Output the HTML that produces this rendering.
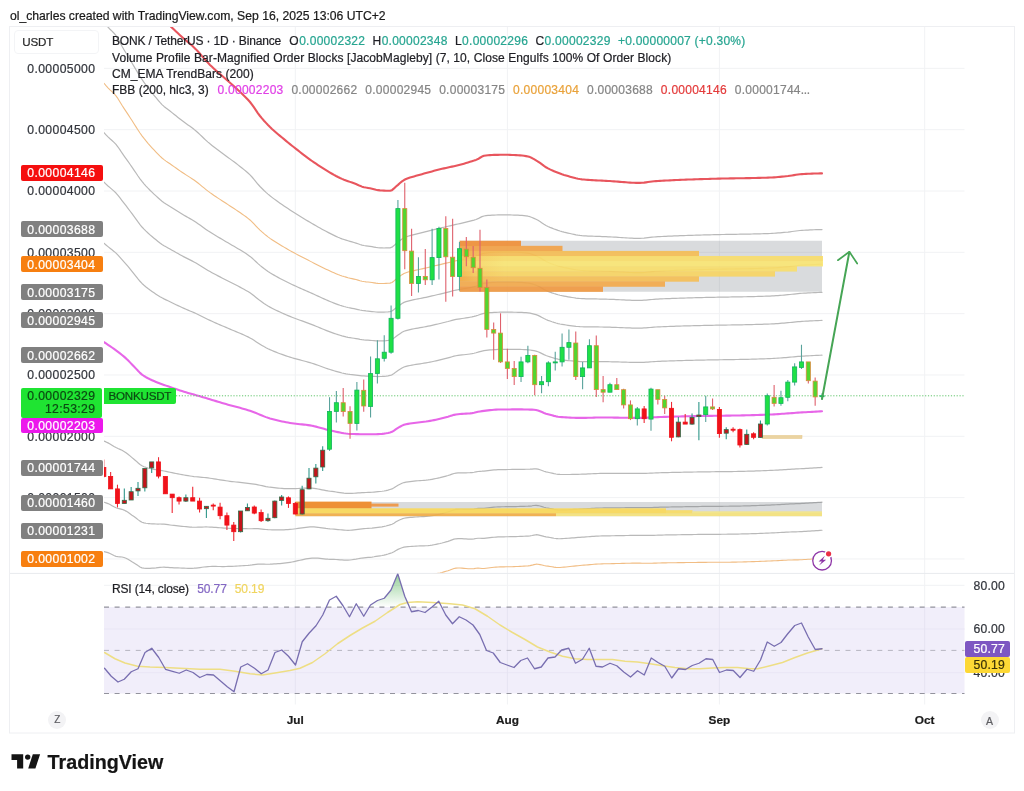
<!DOCTYPE html>
<html><head><meta charset="utf-8"><title>chart</title>
<style>
html,body{margin:0;padding:0;background:#fff;overflow:hidden;}
html{width:1024px;height:791px;}
body{width:1024px;height:791px;position:relative;overflow:hidden;font-family:"Liberation Sans", sans-serif;}
.t{position:absolute;white-space:nowrap;line-height:20px;height:20px;font-family:"Liberation Sans", sans-serif;-webkit-text-stroke:0.22px currentColor;}
svg{position:absolute;left:0;top:0;}
</style></head><body>
<svg width="1024" height="791" viewBox="0 0 1024 791">
<line x1="104.0" y1="68.35" x2="964.5" y2="68.35" stroke="#f1f2f4" stroke-width="1"/>
<line x1="104.0" y1="129.68" x2="964.5" y2="129.68" stroke="#f1f2f4" stroke-width="1"/>
<line x1="104.0" y1="191" x2="964.5" y2="191" stroke="#f1f2f4" stroke-width="1"/>
<line x1="104.0" y1="252.33" x2="964.5" y2="252.33" stroke="#f1f2f4" stroke-width="1"/>
<line x1="104.0" y1="313.65" x2="964.5" y2="313.65" stroke="#f1f2f4" stroke-width="1"/>
<line x1="104.0" y1="374.98" x2="964.5" y2="374.98" stroke="#f1f2f4" stroke-width="1"/>
<line x1="104.0" y1="436.3" x2="964.5" y2="436.3" stroke="#f1f2f4" stroke-width="1"/>
<line x1="104.0" y1="497.62" x2="964.5" y2="497.62" stroke="#f1f2f4" stroke-width="1"/>
<line x1="104.0" y1="558.95" x2="964.5" y2="558.95" stroke="#f1f2f4" stroke-width="1"/>
<line x1="104.0" y1="585.3" x2="964.5" y2="585.3" stroke="#f1f2f4" stroke-width="1"/>
<line x1="104.0" y1="629" x2="964.5" y2="629" stroke="#f1f2f4" stroke-width="1"/>
<line x1="104.0" y1="672.7" x2="964.5" y2="672.7" stroke="#f1f2f4" stroke-width="1"/>
<line x1="295.3" y1="26.5" x2="295.3" y2="704.5" stroke="#f1f2f4" stroke-width="1"/>
<line x1="507.4" y1="26.5" x2="507.4" y2="704.5" stroke="#f1f2f4" stroke-width="1"/>
<line x1="719.4" y1="26.5" x2="719.4" y2="704.5" stroke="#f1f2f4" stroke-width="1"/>
<line x1="924.7" y1="26.5" x2="924.7" y2="704.5" stroke="#f1f2f4" stroke-width="1"/>
<defs><clipPath id="mp"><rect x="104.0" y="27.0" width="860.5" height="546.4"/></clipPath>
<clipPath id="rp"><rect x="104.0" y="573.4" width="860.5" height="130.60000000000002"/></clipPath>
<linearGradient id="obg" x1="0" x2="1" y1="0" y2="0"><stop offset="0" stop-color="#ef8a2c" stop-opacity="0.4"/><stop offset="0.10" stop-color="#ef8a2c" stop-opacity="0.14"/><stop offset="0.3" stop-color="#ef8a2c" stop-opacity="0"/></linearGradient>
<linearGradient id="rsig" x1="0" x2="0" y1="0" y2="1"><stop offset="0" stop-color="#4caf50" stop-opacity="0.6"/><stop offset="1" stop-color="#4caf50" stop-opacity="0.0"/></linearGradient>
</defs>
<g clip-path="url(#mp)">
<polyline points="104,243.32 106,244.99 108,246.64 110,248.23 112,249.79 114,251.41 116,253.16 118,255.17 120,257.36 122,259.62 124,261.83 126,264.07 128,266.42 130,268.85 132,271.32 134,273.78 136,276.3 138,278.85 140,281.28 142,283.45 144,285.29 146,286.98 148,288.56 150,290.04 152,291.44 154,292.8 156,294.14 158,295.44 160,296.69 162,297.84 164,298.9 166,299.88 168,300.82 170,301.76 172,302.73 174,303.7 176,304.67 178,305.63 180,306.57 182,307.5 184,308.4 186,309.27 188,310.11 190,310.95 192,311.79 194,312.66 196,313.56 198,314.5 200,315.48 202,316.47 204,317.47 206,318.46 208,319.44 210,320.38 212,321.3 214,322.2 216,323.09 218,323.96 220,324.83 222,325.7 224,326.56 226,327.42 228,328.27 230,329.11 232,329.94 234,330.76 236,331.59 238,332.43 240,333.28 242,334.15 244,335.04 246,335.95 248,336.91 250,337.92 252,339.06 254,340.31 256,341.63 258,342.95 260,344.22 262,345.43 264,346.59 266,347.69 268,348.72 270,349.66 272,350.54 274,351.37 276,352.17 278,352.95 280,353.69 282,354.42 284,355.12 286,355.81 288,356.48 290,357.12 292,357.73 294,358.31 296,358.87 298,359.41 300,359.94 302,360.46 304,360.99 306,361.53 308,362.08 310,362.66 312,363.26 314,363.9 316,364.59 318,365.31 320,366.04 322,366.78 324,367.5 326,368.21 328,368.9 330,369.54 332,370.14 334,370.74 336,371.33 338,371.91 340,372.45 342,372.96 344,373.42 346,373.82 348,374.17 350,374.46 352,374.68 354,374.89 356,375.11 358,375.35 360,375.59 362,375.8 364,375.95 366,376.06 368,376.15 370,376.24 372,376.35 374,376.45 376,376.51 378,376.54 380,376.51 382,376.43 384,376.28 386,376.07 388,375.79 390,375.45 392,374.82 394,373.48 396,371.89 398,370.53 400,369.21 402,367.98 404,367.01 406,366.4 408,365.9 410,365.48 412,365.12 414,364.78 416,364.44 418,364.13 420,363.83 422,363.52 424,363.21 426,362.89 428,362.53 430,362.13 432,361.72 434,361.28 436,360.83 438,360.37 440,359.91 442,359.41 444,358.91 446,358.4 448,357.88 450,357.32 452,356.72 454,356.16 456,355.73 458,355.44 460,355.19 462,354.96 464,354.74 466,354.51 468,354.26 470,353.98 472,353.66 474,353.24 476,352.73 478,352.17 480,351.56 482,351.05 484,350.67 486,350.4 488,350.16 490,349.95 492,349.78 494,349.64 496,349.53 498,349.45 500,349.4 502,349.38 504,349.36 506,349.35 508,349.35 510,349.35 512,349.36 514,349.37 516,349.39 518,349.41 520,349.44 522,349.49 524,349.57 526,349.67 528,349.81 530,350 532,350.29 534,350.63 536,351.06 538,351.73 540,352.62 542,353.62 544,354.63 546,355.51 548,356.22 550,356.89 552,357.53 554,358.14 556,358.69 558,359.16 560,359.55 562,359.84 564,360.09 566,360.33 568,360.55 570,360.76 572,360.96 574,361.14 576,361.3 578,361.43 580,361.53 582,361.6 584,361.63 586,361.65 588,361.65 590,361.64 592,361.62 594,361.6 596,361.59 598,361.58 600,361.59 602,361.6 604,361.63 606,361.66 608,361.7 610,361.74 612,361.79 614,361.84 616,361.9 618,361.96 620,362.02 622,362.09 624,362.15 626,362.21 628,362.27 630,362.32 632,362.36 634,362.4 636,362.42 638,362.44 640,362.44 642,362.4 644,362.31 646,362.2 648,362.06 650,361.91 652,361.76 654,361.61 656,361.49 658,361.38 660,361.29 662,361.21 664,361.14 666,361.07 668,361 670,360.93 672,360.86 674,360.8 676,360.74 678,360.68 680,360.62 682,360.56 684,360.51 686,360.45 688,360.4 690,360.35 692,360.3 694,360.26 696,360.21 698,360.17 700,360.12 702,360.08 704,360.04 706,360 708,359.96 710,359.93 712,359.89 714,359.86 716,359.83 718,359.79 720,359.76 722,359.73 724,359.71 726,359.68 728,359.65 730,359.62 732,359.59 734,359.56 736,359.52 738,359.49 740,359.46 742,359.42 744,359.38 746,359.33 748,359.29 750,359.24 752,359.19 754,359.14 756,359.08 758,359.02 760,358.96 762,358.89 764,358.82 766,358.75 768,358.67 770,358.59 772,358.5 774,358.39 776,358.27 778,358.14 780,358 782,357.85 784,357.7 786,357.54 788,357.37 790,357.19 792,357.01 794,356.82 796,356.64 798,356.47 800,356.31 802,356.18 804,356.06 806,355.95 808,355.84 810,355.73 812,355.62 814,355.52 816,355.42 818,355.33 820,355.24 822,355.16 822,355.16" fill="none" stroke="#b9b9b9" stroke-width="1.2" stroke-linejoin="round" stroke-linecap="round" />
<polyline points="104,182.15 106,184.07 108,185.94 110,187.67 112,189.34 114,191.08 116,193.02 118,195.35 120,197.96 122,200.63 124,203.19 126,205.72 128,208.32 130,210.99 132,213.71 134,216.43 136,219.19 138,221.97 140,224.62 142,227.03 144,229.17 146,231.16 148,233.05 150,234.83 152,236.54 154,238.2 156,239.83 158,241.44 160,242.98 162,244.4 164,245.67 166,246.83 168,247.93 170,249.03 172,250.16 174,251.31 176,252.45 178,253.59 180,254.71 182,255.81 184,256.87 186,257.89 188,258.9 190,259.9 192,260.91 194,261.97 196,263.08 198,264.26 200,265.47 202,266.72 204,267.97 206,269.2 208,270.4 210,271.56 212,272.67 214,273.75 216,274.81 218,275.85 220,276.89 222,277.92 224,278.95 226,280 228,281.02 230,282.04 232,283.04 234,284.05 236,285.07 238,286.09 240,287.14 242,288.22 244,289.3 246,290.41 248,291.59 250,292.84 252,294.25 254,295.81 256,297.45 258,299.07 260,300.61 262,302.04 264,303.42 266,304.73 268,305.97 270,307.11 272,308.18 274,309.21 276,310.19 278,311.14 280,312.07 282,312.97 284,313.85 286,314.73 288,315.58 290,316.41 292,317.22 294,317.99 296,318.74 298,319.48 300,320.2 302,320.92 304,321.64 306,322.37 308,323.1 310,323.85 312,324.61 314,325.39 316,326.21 318,327.04 320,327.88 322,328.72 324,329.55 326,330.35 328,331.14 330,331.89 332,332.61 334,333.31 336,334 338,334.67 340,335.29 342,335.87 344,336.39 346,336.87 348,337.29 350,337.65 352,337.97 354,338.28 356,338.6 358,338.96 360,339.33 362,339.65 364,339.88 366,340.04 368,340.18 370,340.33 372,340.5 374,340.68 376,340.82 378,340.92 380,340.94 382,340.9 384,340.8 386,340.65 388,340.44 390,340.16 392,339.53 394,338.11 396,336.47 398,335.05 400,333.64 402,332.31 404,331.27 406,330.6 408,330.05 410,329.57 412,329.16 414,328.78 416,328.4 418,328.05 420,327.7 422,327.34 424,326.98 426,326.61 428,326.21 430,325.79 432,325.35 434,324.89 436,324.43 438,323.96 440,323.49 442,322.99 444,322.5 446,321.99 448,321.5 450,320.96 452,320.39 454,319.85 456,319.42 458,319.1 460,318.8 462,318.51 464,318.22 466,317.92 468,317.6 470,317.26 472,316.88 474,316.42 476,315.88 478,315.26 480,314.53 482,313.87 484,313.43 486,313.16 488,312.92 490,312.71 492,312.55 494,312.42 496,312.33 498,312.26 500,312.22 502,312.2 504,312.18 506,312.17 508,312.17 510,312.18 512,312.2 514,312.23 516,312.26 518,312.3 520,312.35 522,312.43 524,312.54 526,312.68 528,312.86 530,313.14 532,313.56 534,314.05 536,314.63 538,315.4 540,316.38 542,317.47 544,318.56 546,319.54 548,320.33 550,321.06 552,321.76 554,322.41 556,323.01 558,323.55 560,324 562,324.37 564,324.7 566,325.01 568,325.3 570,325.59 572,325.85 574,326.1 576,326.33 578,326.51 580,326.67 582,326.77 584,326.84 586,326.88 588,326.91 590,326.93 592,326.94 594,326.95 596,326.96 598,326.97 600,326.99 602,327.02 604,327.06 606,327.11 608,327.16 610,327.21 612,327.28 614,327.35 616,327.42 618,327.51 620,327.59 622,327.67 624,327.76 626,327.83 628,327.91 630,327.97 632,328.03 634,328.08 636,328.11 638,328.13 640,328.12 642,328.07 644,327.97 646,327.83 648,327.67 650,327.49 652,327.32 654,327.16 656,327.02 658,326.91 660,326.81 662,326.73 664,326.65 666,326.57 668,326.49 670,326.42 672,326.35 674,326.28 676,326.21 678,326.14 680,326.08 682,326.02 684,325.96 686,325.9 688,325.85 690,325.79 692,325.74 694,325.69 696,325.64 698,325.59 700,325.54 702,325.49 704,325.45 706,325.41 708,325.37 710,325.33 712,325.29 714,325.25 716,325.21 718,325.18 720,325.14 722,325.11 724,325.08 726,325.05 728,325.02 730,324.99 732,324.96 734,324.93 736,324.89 738,324.86 740,324.83 742,324.79 744,324.75 746,324.71 748,324.67 750,324.62 752,324.58 754,324.52 756,324.47 758,324.41 760,324.35 762,324.29 764,324.22 766,324.15 768,324.08 770,324 772,323.9 774,323.79 776,323.67 778,323.53 780,323.38 782,323.22 784,323.06 786,322.89 788,322.72 790,322.52 792,322.31 794,322.1 796,321.89 798,321.7 800,321.53 802,321.39 804,321.27 806,321.16 808,321.05 810,320.94 812,320.84 814,320.74 816,320.65 818,320.57 820,320.49 822,320.42 822,320.42" fill="none" stroke="#b9b9b9" stroke-width="1.2" stroke-linejoin="round" stroke-linecap="round" />
<polyline points="104,132.71 106,134.84 108,136.88 110,138.73 112,140.49 114,142.32 116,144.42 118,147.01 120,149.95 122,152.96 124,155.79 126,158.56 128,161.37 130,164.23 132,167.14 134,170.07 136,173.03 138,176 140,178.82 142,181.44 144,183.81 146,186.05 148,188.18 150,190.21 152,192.17 154,194.07 156,195.93 158,197.79 160,199.57 162,201.21 164,202.65 166,203.96 168,205.19 170,206.41 172,207.68 174,208.96 176,210.25 178,211.53 180,212.79 182,214.03 184,215.22 186,216.37 188,217.5 190,218.63 192,219.79 194,221 196,222.29 198,223.65 200,225.06 202,226.51 204,227.96 206,229.39 208,230.78 210,232.1 212,233.36 214,234.59 216,235.79 218,236.97 220,238.14 222,239.31 224,240.48 226,241.66 228,242.84 230,243.99 232,245.15 234,246.3 236,247.46 238,248.65 240,249.85 242,251.09 244,252.33 246,253.61 248,254.96 250,256.4 252,258.03 254,259.84 256,261.74 258,263.61 260,265.36 262,266.98 264,268.54 266,270.01 268,271.41 270,272.72 272,273.95 274,275.13 276,276.26 278,277.36 280,278.42 282,279.47 284,280.5 286,281.52 288,282.53 290,283.51 292,284.47 294,285.4 296,286.31 298,287.2 300,288.08 302,288.96 304,289.84 306,290.72 308,291.6 310,292.48 312,293.37 314,294.27 316,295.19 318,296.12 320,297.04 322,297.97 324,298.87 326,299.76 328,300.63 330,301.47 332,302.27 334,303.07 336,303.84 338,304.57 340,305.26 342,305.89 344,306.47 346,307 348,307.48 350,307.91 352,308.3 354,308.69 356,309.1 358,309.55 360,310.02 362,310.43 364,310.72 366,310.94 368,311.11 370,311.3 372,311.53 374,311.76 376,311.98 378,312.13 380,312.2 382,312.19 384,312.13 386,312.02 388,311.86 390,311.64 392,311 394,309.53 396,307.84 398,306.38 400,304.89 402,303.49 404,302.39 406,301.67 408,301.07 410,300.55 412,300.1 414,299.68 416,299.28 418,298.89 420,298.5 422,298.1 424,297.7 426,297.29 428,296.86 430,296.41 432,295.95 434,295.48 436,295.01 438,294.53 440,294.05 442,293.56 444,293.07 446,292.57 448,292.09 450,291.57 452,291.03 454,290.51 456,290.08 458,289.72 460,289.39 462,289.06 464,288.71 466,288.35 468,287.97 470,287.57 472,287.15 474,286.66 476,286.09 478,285.42 480,284.6 482,283.83 484,283.33 486,283.06 488,282.82 490,282.62 492,282.46 494,282.35 496,282.27 498,282.2 500,282.16 502,282.15 504,282.13 506,282.13 508,282.13 510,282.15 512,282.17 514,282.21 516,282.25 518,282.3 520,282.37 522,282.47 524,282.61 526,282.79 528,283.01 530,283.35 532,283.87 534,284.48 536,285.18 538,286.04 540,287.09 542,288.25 544,289.42 546,290.47 548,291.33 550,292.11 552,292.85 554,293.54 556,294.18 558,294.76 560,295.27 562,295.71 564,296.1 566,296.46 568,296.81 570,297.15 572,297.48 574,297.78 576,298.06 578,298.29 580,298.48 582,298.62 584,298.71 586,298.78 588,298.84 590,298.88 592,298.91 594,298.94 596,298.97 598,299 600,299.03 602,299.07 604,299.12 606,299.18 608,299.24 610,299.31 612,299.38 614,299.47 616,299.56 618,299.66 620,299.76 622,299.86 624,299.96 626,300.05 628,300.14 630,300.22 632,300.28 634,300.34 636,300.38 638,300.4 640,300.39 642,300.33 644,300.21 646,300.05 648,299.87 650,299.68 652,299.48 654,299.31 656,299.16 658,299.05 660,298.95 662,298.86 664,298.77 666,298.69 668,298.6 670,298.53 672,298.45 674,298.37 676,298.3 678,298.23 680,298.17 682,298.1 684,298.04 686,297.98 688,297.92 690,297.86 692,297.8 694,297.75 696,297.69 698,297.64 700,297.59 702,297.54 704,297.5 706,297.45 708,297.41 710,297.36 712,297.32 714,297.28 716,297.24 718,297.2 720,297.16 722,297.13 724,297.09 726,297.06 728,297.03 730,297 732,296.97 734,296.94 736,296.91 738,296.87 740,296.84 742,296.8 744,296.77 746,296.73 748,296.69 750,296.64 752,296.6 754,296.55 756,296.5 758,296.44 760,296.39 762,296.32 764,296.26 766,296.19 768,296.12 770,296.04 772,295.94 774,295.83 776,295.7 778,295.55 780,295.4 782,295.24 784,295.07 786,294.89 788,294.71 790,294.5 792,294.27 794,294.04 796,293.81 798,293.6 800,293.42 802,293.27 804,293.15 806,293.04 808,292.93 810,292.83 812,292.73 814,292.64 816,292.55 818,292.48 820,292.41 822,292.35 822,292.35" fill="none" stroke="#b9b9b9" stroke-width="1.2" stroke-linejoin="round" stroke-linecap="round" />
<polyline points="104,22.11 106,24.69 108,27.12 110,29.24 112,31.18 114,33.23 116,35.67 118,38.85 120,42.55 122,46.3 124,49.74 126,53.04 128,56.31 130,59.61 132,62.95 134,66.35 136,69.77 138,73.14 140,76.36 142,79.43 144,82.33 146,85.12 148,87.81 150,90.39 152,92.89 154,95.33 156,97.73 158,100.14 160,102.46 162,104.58 164,106.41 166,108.04 168,109.56 170,111.06 172,112.62 174,114.23 176,115.83 178,117.43 180,119.01 182,120.56 184,122.05 186,123.48 188,124.89 190,126.32 192,127.79 194,129.34 196,131.01 198,132.79 200,134.65 202,136.55 204,138.45 206,140.32 208,142.12 210,143.81 212,145.42 214,146.98 216,148.49 218,149.98 220,151.45 222,152.92 224,154.4 226,155.9 228,157.4 230,158.88 232,160.36 234,161.84 236,163.34 238,164.86 240,166.42 242,168.02 244,169.62 246,171.27 248,173.01 250,174.88 252,177 254,179.38 256,181.85 258,184.27 260,186.5 262,188.53 264,190.48 266,192.34 268,194.11 270,195.78 272,197.37 274,198.89 276,200.35 278,201.77 280,203.15 282,204.52 284,205.88 286,207.24 288,208.58 290,209.9 292,211.2 294,212.49 296,213.75 298,215 300,216.23 302,217.46 304,218.69 306,219.91 308,221.12 310,222.31 312,223.48 314,224.63 316,225.78 318,226.92 320,228.05 322,229.16 324,230.24 326,231.3 328,232.36 330,233.4 332,234.41 334,235.39 336,236.34 338,237.24 340,238.07 342,238.83 344,239.52 346,240.17 348,240.78 350,241.36 352,241.92 354,242.49 356,243.09 358,243.76 360,244.46 362,245.07 364,245.5 366,245.81 368,246.08 370,246.36 372,246.7 374,247.08 376,247.45 378,247.73 380,247.89 382,247.95 384,247.98 386,247.97 388,247.93 390,247.84 392,247.19 394,245.58 396,243.8 398,242.23 400,240.57 402,239.01 404,237.77 406,236.94 408,236.23 410,235.63 412,235.09 414,234.59 416,234.12 418,233.65 420,233.17 422,232.68 424,232.18 426,231.69 428,231.19 430,230.69 432,230.19 434,229.68 436,229.18 438,228.69 440,228.2 442,227.7 444,227.22 446,226.75 448,226.29 450,225.82 452,225.34 454,224.86 456,224.42 458,224.01 460,223.58 462,223.15 464,222.68 466,222.19 468,221.69 470,221.17 472,220.64 474,220.09 476,219.46 478,218.68 480,217.63 482,216.62 484,215.99 486,215.71 488,215.47 490,215.28 492,215.14 494,215.05 496,215 498,214.96 500,214.93 502,214.91 504,214.9 506,214.9 508,214.91 510,214.94 512,214.99 514,215.05 516,215.12 518,215.19 520,215.29 522,215.45 524,215.65 526,215.9 528,216.21 530,216.7 532,217.44 534,218.34 536,219.3 538,220.34 540,221.55 542,222.88 544,224.21 546,225.42 548,226.43 550,227.33 552,228.16 554,228.94 556,229.67 558,230.36 560,231 562,231.58 564,232.11 566,232.59 568,233.07 570,233.54 572,234 574,234.42 576,234.81 578,235.15 580,235.43 582,235.64 584,235.79 586,235.92 588,236.03 590,236.12 592,236.2 594,236.27 596,236.34 598,236.41 600,236.47 602,236.54 604,236.62 606,236.7 608,236.78 610,236.87 612,236.98 614,237.09 616,237.22 618,237.35 620,237.49 622,237.63 624,237.76 626,237.89 628,238.01 630,238.12 632,238.21 634,238.28 636,238.33 638,238.36 640,238.35 642,238.26 644,238.11 646,237.91 648,237.68 650,237.44 652,237.21 654,237 656,236.84 658,236.72 660,236.61 662,236.51 664,236.41 666,236.31 668,236.21 670,236.12 672,236.04 674,235.95 676,235.87 678,235.79 680,235.71 682,235.64 684,235.57 686,235.5 688,235.43 690,235.36 692,235.3 694,235.24 696,235.18 698,235.12 700,235.06 702,235.01 704,234.95 706,234.9 708,234.85 710,234.8 712,234.75 714,234.7 716,234.65 718,234.61 720,234.56 722,234.52 724,234.48 726,234.45 728,234.41 730,234.38 732,234.35 734,234.32 736,234.29 738,234.26 740,234.22 742,234.19 744,234.16 746,234.12 748,234.09 750,234.05 752,234.01 754,233.96 756,233.92 758,233.87 760,233.81 762,233.75 764,233.69 766,233.63 768,233.56 770,233.48 772,233.38 774,233.26 776,233.12 778,232.96 780,232.8 782,232.62 784,232.44 786,232.25 788,232.05 790,231.8 792,231.53 794,231.25 796,230.98 798,230.73 800,230.52 802,230.36 804,230.24 806,230.13 808,230.03 810,229.93 812,229.84 814,229.75 816,229.68 818,229.62 820,229.58 822,229.54 822,229.54" fill="none" stroke="#b9b9b9" stroke-width="1.2" stroke-linejoin="round" stroke-linecap="round" />
<polyline points="104,441.06 106,441.92 108,442.88 110,443.99 112,445.21 114,446.44 116,447.58 118,448.54 120,449.4 122,450.32 124,451.44 126,452.73 128,454.25 130,455.9 132,457.59 134,459.22 136,460.92 138,462.75 140,464.47 142,465.82 144,466.71 146,467.43 148,468.02 150,468.51 152,468.94 154,469.33 156,469.71 158,470.03 160,470.31 162,470.61 164,470.97 166,471.37 168,471.8 170,472.24 172,472.67 174,473.08 176,473.47 178,473.86 180,474.24 182,474.61 184,474.98 186,475.35 188,475.69 190,476 192,476.28 194,476.54 196,476.75 198,476.94 200,477.12 202,477.31 204,477.5 206,477.71 208,477.95 210,478.22 212,478.52 214,478.83 216,479.16 218,479.49 220,479.82 222,480.15 224,480.46 226,480.75 228,481.02 230,481.28 232,481.53 234,481.77 236,482 238,482.22 240,482.44 242,482.67 244,482.91 246,483.17 248,483.42 250,483.68 252,483.92 254,484.18 256,484.46 258,484.8 260,485.22 262,485.68 264,486.14 266,486.56 268,486.93 270,487.22 272,487.46 274,487.68 276,487.89 278,488.09 280,488.27 282,488.42 284,488.54 286,488.63 288,488.69 290,488.72 292,488.72 294,488.68 296,488.6 298,488.51 300,488.4 302,488.3 304,488.2 306,488.13 308,488.1 310,488.12 312,488.21 314,488.4 316,488.68 318,489.02 320,489.4 322,489.8 324,490.21 326,490.6 328,490.95 330,491.24 332,491.47 334,491.72 336,492 338,492.29 340,492.59 342,492.87 344,493.11 346,493.3 348,493.42 350,493.44 352,493.36 354,493.25 356,493.13 358,492.97 360,492.81 362,492.66 364,492.56 366,492.49 368,492.43 370,492.35 372,492.25 374,492.09 376,491.89 378,491.68 380,491.49 382,491.27 384,490.97 386,490.58 388,490.1 390,489.52 392,488.91 394,487.8 396,486.41 398,485.22 400,484.21 402,483.27 404,482.54 406,482.12 408,481.81 410,481.57 412,481.36 414,481.15 416,480.94 418,480.76 420,480.62 422,480.49 424,480.35 426,480.17 428,479.93 430,479.64 432,479.3 434,478.92 436,478.52 438,478.09 440,477.65 442,477.16 444,476.63 446,476.08 448,475.52 450,474.88 452,474.17 454,473.53 456,473.12 458,472.94 460,472.84 462,472.8 464,472.79 466,472.79 468,472.77 470,472.71 472,472.58 474,472.27 476,471.87 478,471.5 480,471.29 482,471.22 484,471.06 486,470.81 488,470.57 490,470.34 492,470.13 494,469.95 496,469.79 498,469.68 500,469.61 502,469.58 504,469.56 506,469.55 508,469.52 510,469.5 512,469.47 514,469.45 516,469.42 518,469.39 520,469.36 522,469.32 524,469.28 526,469.25 528,469.23 530,469.17 532,469.05 534,468.9 536,468.84 538,469.19 540,469.79 542,470.5 544,471.21 546,471.81 548,472.24 550,472.71 552,473.18 554,473.63 556,474.02 558,474.31 560,474.47 562,474.5 564,474.51 566,474.52 568,474.51 570,474.49 572,474.46 574,474.42 576,474.37 578,474.32 580,474.26 582,474.2 584,474.13 586,474.04 588,473.94 590,473.84 592,473.74 594,473.64 596,473.55 598,473.48 600,473.43 602,473.4 604,473.38 606,473.37 608,473.36 610,473.36 612,473.36 614,473.36 616,473.36 618,473.35 620,473.35 622,473.35 624,473.35 626,473.35 628,473.35 630,473.35 632,473.35 634,473.35 636,473.35 638,473.36 640,473.36 642,473.37 644,473.35 646,473.31 648,473.25 650,473.18 652,473.1 654,473.01 656,472.91 658,472.82 660,472.75 662,472.69 664,472.64 666,472.59 668,472.54 670,472.49 672,472.45 674,472.4 676,472.36 678,472.32 680,472.28 682,472.24 684,472.2 686,472.16 688,472.12 690,472.08 692,472.05 694,472.01 696,471.98 698,471.95 700,471.92 702,471.89 704,471.86 706,471.83 708,471.81 710,471.78 712,471.76 714,471.74 716,471.72 718,471.71 720,471.69 722,471.67 724,471.65 726,471.62 728,471.6 730,471.57 732,471.54 734,471.51 736,471.48 738,471.44 740,471.4 742,471.36 744,471.32 746,471.27 748,471.21 750,471.16 752,471.1 754,471.04 756,470.97 758,470.9 760,470.83 762,470.76 764,470.68 766,470.6 768,470.52 770,470.44 772,470.35 774,470.26 776,470.15 778,470.04 780,469.92 782,469.8 784,469.67 786,469.54 788,469.4 790,469.29 792,469.18 794,469.07 796,468.97 798,468.87 800,468.77 802,468.66 804,468.54 806,468.42 808,468.3 810,468.18 812,468.06 814,467.94 816,467.82 818,467.7 820,467.57 822,467.44 822,467.44" fill="none" stroke="#b9b9b9" stroke-width="1.2" stroke-linejoin="round" stroke-linecap="round" />
<polyline points="104,502.22 106,502.83 108,503.58 110,504.54 112,505.66 114,506.77 116,507.72 118,508.35 120,508.8 122,509.31 124,510.08 126,511.09 128,512.35 130,513.76 132,515.21 134,516.57 136,518.03 138,519.63 140,521.13 142,522.24 144,522.83 146,523.25 148,523.53 150,523.71 152,523.84 154,523.94 156,524.02 158,524.03 160,524.02 162,524.05 164,524.19 166,524.41 168,524.68 170,524.97 172,525.23 174,525.47 176,525.69 178,525.9 180,526.1 182,526.31 184,526.51 186,526.72 188,526.9 190,527.05 192,527.17 194,527.23 196,527.23 198,527.19 200,527.13 202,527.06 204,527 206,526.97 208,526.98 210,527.04 212,527.15 214,527.28 216,527.44 218,527.6 220,527.77 222,527.92 224,528.06 226,528.18 228,528.27 230,528.35 232,528.42 234,528.47 236,528.52 238,528.55 240,528.58 242,528.61 244,528.65 246,528.7 248,528.75 250,528.76 252,528.73 254,528.68 256,528.65 258,528.68 260,528.83 262,529.06 264,529.3 266,529.52 268,529.68 270,529.77 272,529.81 274,529.85 276,529.88 278,529.89 280,529.89 282,529.87 284,529.81 286,529.71 288,529.58 290,529.43 292,529.24 294,529 296,528.73 298,528.44 300,528.14 302,527.84 304,527.55 306,527.29 308,527.08 310,526.93 312,526.86 314,526.91 316,527.06 318,527.28 320,527.55 322,527.85 324,528.16 326,528.46 328,528.7 330,528.88 332,529 334,529.15 336,529.33 338,529.53 340,529.75 342,529.96 344,530.13 346,530.26 348,530.3 350,530.25 352,530.07 354,529.86 356,529.63 358,529.36 360,529.07 362,528.81 364,528.63 366,528.51 368,528.4 370,528.27 372,528.1 374,527.86 376,527.58 378,527.3 380,527.06 382,526.8 384,526.45 386,526 388,525.45 390,524.81 392,524.2 394,523.16 396,521.83 398,520.7 400,519.78 402,518.93 404,518.28 406,517.92 408,517.67 410,517.47 412,517.31 414,517.15 416,516.98 418,516.84 420,516.75 422,516.68 424,516.58 426,516.45 428,516.25 430,515.99 432,515.67 434,515.31 436,514.92 438,514.51 440,514.07 442,513.58 444,513.04 446,512.48 448,511.9 450,511.24 452,510.49 454,509.84 456,509.43 458,509.29 460,509.23 462,509.25 464,509.31 466,509.38 468,509.43 470,509.44 472,509.36 474,509.09 476,508.72 478,508.41 480,508.32 482,508.39 484,508.29 486,508.05 488,507.81 490,507.58 492,507.36 494,507.16 496,506.99 498,506.87 500,506.79 502,506.77 504,506.75 506,506.72 508,506.7 510,506.67 512,506.63 514,506.59 516,506.55 518,506.51 520,506.45 522,506.38 524,506.31 526,506.24 528,506.17 530,506.03 532,505.78 534,505.48 536,505.28 538,505.53 540,506.03 542,506.65 544,507.27 546,507.78 548,508.13 550,508.53 552,508.95 554,509.36 556,509.69 558,509.93 560,510.02 562,509.97 564,509.9 566,509.84 568,509.76 570,509.67 572,509.57 574,509.46 576,509.35 578,509.24 580,509.13 582,509.03 584,508.92 586,508.81 588,508.68 590,508.55 592,508.42 594,508.3 596,508.19 598,508.09 600,508.02 602,507.98 604,507.95 606,507.92 608,507.9 610,507.89 612,507.87 614,507.85 616,507.83 618,507.81 620,507.79 622,507.77 624,507.74 626,507.72 628,507.71 630,507.69 632,507.68 634,507.67 636,507.67 638,507.67 640,507.68 642,507.69 644,507.69 646,507.68 648,507.65 650,507.6 652,507.54 654,507.47 656,507.38 658,507.29 660,507.22 662,507.17 664,507.13 666,507.09 668,507.05 670,507 672,506.96 674,506.93 676,506.89 678,506.85 680,506.81 682,506.78 684,506.74 686,506.71 688,506.68 690,506.65 692,506.61 694,506.58 696,506.55 698,506.53 700,506.5 702,506.47 704,506.44 706,506.42 708,506.4 710,506.38 712,506.37 714,506.35 716,506.34 718,506.32 720,506.31 722,506.29 724,506.27 726,506.25 728,506.23 730,506.2 732,506.17 734,506.14 736,506.11 738,506.07 740,506.03 742,505.99 744,505.94 746,505.89 748,505.83 750,505.78 752,505.72 754,505.65 756,505.58 758,505.51 760,505.44 762,505.36 764,505.28 766,505.2 768,505.12 770,505.04 772,504.95 774,504.86 776,504.76 778,504.66 780,504.54 782,504.43 784,504.31 786,504.18 788,504.06 790,503.96 792,503.87 794,503.79 796,503.72 798,503.64 800,503.56 802,503.45 804,503.33 806,503.21 808,503.09 810,502.97 812,502.84 814,502.72 816,502.59 818,502.46 820,502.32 822,502.18 822,502.18" fill="none" stroke="#b9b9b9" stroke-width="1.2" stroke-linejoin="round" stroke-linecap="round" />
<polyline points="104,551.66 106,552.07 108,552.64 110,553.48 112,554.51 114,555.53 116,556.33 118,556.69 120,556.81 122,556.98 124,557.48 126,558.25 128,559.3 130,560.53 132,561.78 134,562.93 136,564.18 138,565.6 140,566.93 142,567.83 144,568.19 146,568.36 148,568.39 150,568.33 152,568.21 154,568.07 156,567.92 158,567.68 160,567.42 162,567.24 164,567.21 166,567.29 168,567.43 170,567.59 172,567.72 174,567.81 176,567.89 178,567.96 180,568.02 182,568.08 184,568.16 186,568.24 188,568.29 190,568.32 192,568.29 194,568.2 196,568.03 198,567.8 200,567.54 202,567.27 204,567.01 206,566.78 208,566.6 210,566.5 212,566.45 214,566.44 216,566.46 218,566.48 220,566.51 222,566.54 224,566.54 226,566.51 228,566.46 230,566.4 232,566.32 234,566.23 236,566.12 238,566 240,565.87 242,565.74 244,565.62 246,565.51 248,565.38 250,565.2 252,564.95 254,564.64 256,564.35 258,564.14 260,564.08 262,564.13 264,564.19 266,564.24 268,564.24 270,564.17 272,564.04 274,563.92 276,563.81 278,563.68 280,563.54 282,563.37 284,563.16 286,562.91 288,562.64 290,562.33 292,561.98 294,561.59 296,561.16 298,560.71 300,560.25 302,559.8 304,559.35 306,558.94 308,558.58 310,558.29 312,558.1 314,558.04 316,558.08 318,558.21 320,558.39 322,558.61 324,558.84 326,559.05 328,559.22 330,559.31 332,559.34 334,559.4 336,559.5 338,559.63 340,559.78 342,559.93 344,560.06 346,560.13 348,560.11 350,559.99 352,559.74 354,559.45 356,559.14 358,558.77 360,558.37 362,558.03 364,557.79 366,557.62 368,557.47 370,557.3 372,557.07 374,556.77 376,556.42 378,556.08 380,555.8 382,555.51 384,555.12 386,554.63 388,554.03 390,553.33 392,552.72 394,551.75 396,550.46 398,549.37 400,548.53 402,547.75 404,547.16 406,546.85 408,546.64 410,546.49 412,546.37 414,546.25 416,546.1 418,546 420,545.95 422,545.92 424,545.87 426,545.77 428,545.6 430,545.36 432,545.07 434,544.72 436,544.34 438,543.94 440,543.5 442,543.01 444,542.47 446,541.9 448,541.31 450,540.63 452,539.86 454,539.18 456,538.78 458,538.66 460,538.65 462,538.71 464,538.82 466,538.95 468,539.06 470,539.12 472,539.09 474,538.85 476,538.51 478,538.24 480,538.26 482,538.43 484,538.39 486,538.15 488,537.91 490,537.68 492,537.45 494,537.24 496,537.06 498,536.93 500,536.84 502,536.82 504,536.8 506,536.77 508,536.74 510,536.7 512,536.66 514,536.61 516,536.56 518,536.5 520,536.43 522,536.34 524,536.24 526,536.14 528,536.03 530,535.82 532,535.47 534,535.04 536,534.72 538,534.89 540,535.32 542,535.87 544,536.42 546,536.85 548,537.14 550,537.49 552,537.87 554,538.23 556,538.53 558,538.71 560,538.75 562,538.63 564,538.5 566,538.39 568,538.25 570,538.11 572,537.95 574,537.78 576,537.62 578,537.46 580,537.31 582,537.17 584,537.05 586,536.9 588,536.75 590,536.6 592,536.45 594,536.31 596,536.18 598,536.07 600,535.98 602,535.93 604,535.89 606,535.85 608,535.82 610,535.79 612,535.76 614,535.73 616,535.7 618,535.66 620,535.62 622,535.58 624,535.54 626,535.51 628,535.48 630,535.45 632,535.43 634,535.41 636,535.4 638,535.4 640,535.41 642,535.44 644,535.45 646,535.46 648,535.45 650,535.42 652,535.38 654,535.32 656,535.24 658,535.15 660,535.09 662,535.04 664,535.01 666,534.97 668,534.93 670,534.9 672,534.86 674,534.83 676,534.79 678,534.76 680,534.73 682,534.7 684,534.67 686,534.64 688,534.61 690,534.58 692,534.55 694,534.52 696,534.5 698,534.47 700,534.45 702,534.42 704,534.4 706,534.38 708,534.36 710,534.35 712,534.34 714,534.32 716,534.31 718,534.3 720,534.29 722,534.27 724,534.26 726,534.24 728,534.21 730,534.19 732,534.16 734,534.13 736,534.1 738,534.06 740,534.02 742,533.97 744,533.93 746,533.87 748,533.82 750,533.76 752,533.69 754,533.63 756,533.56 758,533.48 760,533.41 762,533.33 764,533.25 766,533.17 768,533.08 770,533 772,532.92 774,532.83 776,532.73 778,532.63 780,532.52 782,532.41 784,532.3 786,532.18 788,532.07 790,531.98 792,531.91 794,531.86 796,531.8 798,531.74 800,531.67 802,531.57 804,531.45 806,531.33 808,531.21 810,531.08 812,530.96 814,530.82 816,530.69 818,530.55 820,530.4 822,530.25 822,530.25" fill="none" stroke="#b9b9b9" stroke-width="1.2" stroke-linejoin="round" stroke-linecap="round" />
<polyline points="104,83.28 106,85.61 108,87.82 110,89.79 112,91.63 114,93.56 116,95.81 118,98.67 120,101.95 122,105.29 124,108.39 126,111.39 128,114.41 130,117.47 132,120.57 134,123.71 136,126.88 138,130.02 140,133.03 142,135.84 144,138.45 146,140.94 148,143.32 150,145.59 152,147.79 154,149.93 156,152.04 158,154.14 160,156.17 162,158.02 164,159.64 166,161.08 168,162.44 170,163.79 172,165.19 174,166.62 176,168.05 178,169.47 180,170.87 182,172.25 184,173.57 186,174.85 188,176.11 190,177.37 192,178.67 194,180.03 196,181.49 198,183.04 200,184.65 202,186.3 204,187.95 206,189.58 208,191.15 210,192.64 212,194.06 214,195.43 216,196.77 218,198.09 220,199.39 222,200.69 224,202 226,203.33 228,204.65 230,205.95 232,207.25 234,208.55 236,209.86 238,211.2 240,212.56 242,213.96 244,215.36 246,216.81 248,218.33 250,219.96 252,221.81 254,223.88 256,226.03 258,228.15 260,230.11 262,231.92 264,233.65 266,235.3 268,236.86 270,238.33 272,239.72 274,241.05 276,242.33 278,243.57 280,244.78 282,245.97 284,247.15 286,248.32 288,249.48 290,250.61 292,251.72 294,252.81 296,253.88 298,254.93 300,255.97 302,257 304,258.04 306,259.07 308,260.1 310,261.12 312,262.13 314,263.14 316,264.17 318,265.19 320,266.21 322,267.21 324,268.2 326,269.16 328,270.11 330,271.04 332,271.94 334,272.82 336,273.67 338,274.48 340,275.23 342,275.92 344,276.55 346,277.13 348,277.67 350,278.16 352,278.63 354,279.1 356,279.59 358,280.15 360,280.72 362,281.22 364,281.57 366,281.83 368,282.04 370,282.27 372,282.55 374,282.85 376,283.13 378,283.35 380,283.46 382,283.48 384,283.46 386,283.39 388,283.29 390,283.12 392,282.48 394,280.95 396,279.22 398,277.71 400,276.14 402,274.67 404,273.51 406,272.74 408,272.09 410,271.53 412,271.04 414,270.59 416,270.15 418,269.73 420,269.3 422,268.86 424,268.41 426,267.96 428,267.51 430,267.03 432,266.56 434,266.07 436,265.59 438,265.1 440,264.62 442,264.12 444,263.64 446,263.15 448,262.68 450,262.18 452,261.67 454,261.17 456,260.73 458,260.35 460,259.98 462,259.6 464,259.2 466,258.78 468,258.35 470,257.89 472,257.43 474,256.91 476,256.31 478,255.59 480,254.66 482,253.79 484,253.23 486,252.95 488,252.71 490,252.52 492,252.37 494,252.27 496,252.2 498,252.15 500,252.11 502,252.09 504,252.08 506,252.08 508,252.09 510,252.11 512,252.14 514,252.19 516,252.24 518,252.3 520,252.39 522,252.51 524,252.68 526,252.89 528,253.15 530,253.56 532,254.18 534,254.92 536,255.74 538,256.67 540,257.8 542,259.03 544,260.27 546,261.39 548,262.32 550,263.15 552,263.93 554,264.66 556,265.34 558,265.97 560,266.54 562,267.04 564,267.5 566,267.91 568,268.32 570,268.72 572,269.1 574,269.46 576,269.79 578,270.07 580,270.3 582,270.47 584,270.59 586,270.68 588,270.76 590,270.83 592,270.88 594,270.93 596,270.98 598,271.02 600,271.07 602,271.13 604,271.19 606,271.25 608,271.32 610,271.4 612,271.49 614,271.59 616,271.7 618,271.81 620,271.93 622,272.04 624,272.16 626,272.27 628,272.37 630,272.46 632,272.54 634,272.6 636,272.64 638,272.67 640,272.66 642,272.58 644,272.45 646,272.28 648,272.07 650,271.86 652,271.65 654,271.46 656,271.31 658,271.19 660,271.09 662,270.99 664,270.9 666,270.81 668,270.72 670,270.63 672,270.55 674,270.47 676,270.4 678,270.32 680,270.25 682,270.18 684,270.11 686,270.05 688,269.99 690,269.93 692,269.87 694,269.81 696,269.75 698,269.7 700,269.64 702,269.59 704,269.54 706,269.49 708,269.44 710,269.4 712,269.35 714,269.31 716,269.26 718,269.22 720,269.18 722,269.15 724,269.11 726,269.08 728,269.04 730,269.01 732,268.98 734,268.95 736,268.92 738,268.89 740,268.85 742,268.82 744,268.78 746,268.75 748,268.71 750,268.67 752,268.62 754,268.57 756,268.53 758,268.47 760,268.42 762,268.36 764,268.29 766,268.23 768,268.15 770,268.07 772,267.98 774,267.86 776,267.73 778,267.58 780,267.42 782,267.25 784,267.07 786,266.89 788,266.7 790,266.48 792,266.23 794,265.98 796,265.73 798,265.5 800,265.3 802,265.15 804,265.03 806,264.92 808,264.81 810,264.71 812,264.62 814,264.53 816,264.45 818,264.38 820,264.32 822,264.28 822,264.28" fill="none" stroke="#f1bd84" stroke-width="1.1" stroke-linejoin="round" stroke-linecap="round" />
<polyline points="104,601.09 106,601.3 108,601.7 110,602.42 112,603.37 114,604.29 116,604.93 118,605.04 120,604.81 122,604.65 124,604.88 126,605.41 128,606.26 130,607.29 132,608.34 134,609.29 136,610.34 138,611.58 140,612.73 142,613.42 144,613.55 146,613.47 148,613.26 150,612.95 152,612.58 154,612.2 156,611.81 158,611.33 160,610.83 162,610.44 164,610.23 166,610.16 168,610.17 170,610.21 172,610.2 174,610.16 176,610.09 178,610.02 180,609.94 182,609.86 184,609.8 186,609.76 188,609.69 190,609.58 192,609.41 194,609.17 196,608.83 198,608.41 200,607.95 202,607.48 204,607.02 206,606.59 208,606.23 210,605.96 212,605.76 214,605.6 216,605.48 218,605.37 220,605.26 222,605.15 224,605.01 226,604.84 228,604.65 230,604.44 232,604.22 234,603.98 236,603.72 238,603.45 240,603.16 242,602.87 244,602.59 246,602.31 248,602 250,601.64 252,601.16 254,600.61 256,600.06 258,599.61 260,599.33 262,599.19 264,599.08 266,598.95 268,598.79 270,598.56 272,598.27 274,598 276,597.74 278,597.47 280,597.18 282,596.87 284,596.52 286,596.12 288,595.69 290,595.23 292,594.73 294,594.18 296,593.6 298,592.99 300,592.37 302,591.75 304,591.15 306,590.59 308,590.09 310,589.66 312,589.34 314,589.16 316,589.1 318,589.13 320,589.23 322,589.37 324,589.52 326,589.65 328,589.73 330,589.74 332,589.67 334,589.64 336,589.67 338,589.73 340,589.81 342,589.91 344,589.98 346,590 348,589.93 350,589.74 352,589.41 354,589.04 356,588.64 358,588.17 360,587.68 362,587.24 364,586.94 366,586.72 368,586.54 370,586.32 372,586.05 374,585.68 376,585.27 378,584.87 380,584.54 382,584.22 384,583.79 386,583.25 388,582.61 390,581.85 392,581.25 394,580.33 396,579.08 398,578.04 400,577.28 402,576.57 404,576.05 406,575.78 408,575.62 410,575.51 412,575.43 414,575.34 416,575.23 418,575.16 420,575.15 422,575.16 424,575.15 426,575.09 428,574.95 430,574.74 432,574.46 434,574.13 436,573.76 438,573.37 440,572.94 442,572.45 444,571.9 446,571.32 448,570.72 450,570.01 452,569.22 454,568.52 456,568.13 458,568.04 460,568.06 462,568.16 464,568.33 466,568.52 468,568.69 470,568.81 472,568.82 474,568.61 476,568.29 478,568.07 480,568.19 482,568.48 484,568.49 486,568.25 488,568.01 490,567.77 492,567.54 494,567.31 496,567.12 498,566.98 500,566.89 502,566.87 504,566.85 506,566.82 508,566.79 510,566.74 512,566.69 514,566.63 516,566.56 518,566.5 520,566.41 522,566.3 524,566.17 526,566.03 528,565.88 530,565.61 532,565.16 534,564.61 536,564.17 538,564.26 540,564.61 542,565.09 544,565.57 546,565.93 548,566.14 550,566.44 552,566.78 554,567.1 556,567.36 558,567.5 560,567.48 562,567.3 564,567.1 566,566.93 568,566.74 570,566.54 572,566.32 574,566.1 576,565.89 578,565.68 580,565.49 582,565.32 584,565.17 586,565 588,564.83 590,564.65 592,564.48 594,564.32 596,564.17 598,564.04 600,563.94 602,563.88 604,563.82 606,563.78 608,563.74 610,563.7 612,563.66 614,563.61 616,563.56 618,563.51 620,563.45 622,563.4 624,563.34 626,563.29 628,563.25 630,563.21 632,563.17 634,563.15 636,563.13 638,563.13 640,563.14 642,563.18 644,563.21 646,563.23 648,563.24 650,563.24 652,563.21 654,563.17 656,563.09 658,563.01 660,562.95 662,562.91 664,562.88 666,562.85 668,562.82 670,562.79 672,562.76 674,562.73 676,562.7 678,562.67 680,562.64 682,562.62 684,562.59 686,562.56 688,562.54 690,562.51 692,562.49 694,562.46 696,562.44 698,562.42 700,562.39 702,562.37 704,562.35 706,562.34 708,562.32 710,562.31 712,562.3 714,562.29 716,562.29 718,562.28 720,562.27 722,562.26 724,562.24 726,562.22 728,562.2 730,562.18 732,562.15 734,562.12 736,562.09 738,562.05 740,562.01 742,561.96 744,561.91 746,561.86 748,561.8 750,561.73 752,561.67 754,561.6 756,561.53 758,561.45 760,561.38 762,561.3 764,561.21 766,561.13 768,561.04 770,560.96 772,560.88 774,560.79 776,560.7 778,560.61 780,560.51 782,560.4 784,560.29 786,560.18 788,560.07 790,560 792,559.95 794,559.92 796,559.89 798,559.84 800,559.78 802,559.69 804,559.57 806,559.45 808,559.32 810,559.2 812,559.07 814,558.93 816,558.79 818,558.64 820,558.49 822,558.32 822,558.32" fill="none" stroke="#f1bd84" stroke-width="1.1" stroke-linejoin="round" stroke-linecap="round" />
<polyline points="104,-76.76 106,-73.77 108,-71 110,-68.64 112,-66.53 114,-64.28 116,-61.54 118,-57.83 120,-53.47 122,-49.05 124,-45.06 126,-41.29 128,-37.6 130,-33.92 132,-30.18 134,-26.36 136,-22.54 138,-18.81 140,-15.23 142,-11.76 144,-8.38 146,-5.1 148,-1.92 150,1.15 152,4.15 154,7.06 156,9.94 158,12.84 160,15.65 162,18.2 164,20.38 166,22.29 168,24.07 170,25.82 172,27.65 174,29.54 176,31.43 178,33.31 180,35.18 182,37 184,38.75 186,40.44 188,42.11 190,43.79 192,45.54 194,47.4 196,49.41 198,51.57 200,53.82 202,56.13 204,58.43 206,60.69 208,62.86 210,64.9 212,66.81 214,68.66 216,70.45 218,72.21 220,73.95 222,75.69 224,77.45 226,79.24 228,81.02 230,82.79 232,84.56 234,86.34 236,88.14 238,89.97 240,91.84 242,93.76 244,95.69 246,97.66 248,99.75 250,102 252,104.57 254,107.44 256,110.43 258,113.34 260,116 262,118.41 264,120.71 266,122.9 268,125 270,127 272,128.91 274,130.73 276,132.49 278,134.19 280,135.87 282,137.52 284,139.17 286,140.83 288,142.47 290,144.1 292,145.71 294,147.3 296,148.88 298,150.45 300,152 302,153.55 304,155.09 306,156.61 308,158.11 310,159.58 312,161 314,162.38 316,163.74 318,165.07 320,166.37 322,167.64 324,168.89 326,170.11 328,171.33 330,172.55 332,173.74 334,174.9 336,176 338,177.04 340,178 342,178.87 344,179.68 346,180.43 348,181.16 350,181.87 352,182.58 354,183.31 356,184.08 358,184.95 360,185.84 362,186.64 364,187.19 366,187.59 368,187.94 370,188.3 372,188.75 374,189.26 376,189.76 378,190.16 380,190.4 382,190.53 384,190.63 386,190.72 388,190.78 390,190.8 392,190.14 394,188.42 396,186.54 398,184.88 400,183.07 402,181.36 404,180.01 406,179.07 408,178.28 410,177.58 412,176.97 414,176.4 416,175.86 418,175.33 420,174.77 422,174.19 424,173.61 426,173.04 428,172.48 430,171.94 432,171.39 434,170.86 436,170.34 438,169.83 440,169.32 442,168.83 444,168.36 446,167.91 448,167.48 450,167.04 452,166.61 454,166.18 456,165.73 458,165.26 460,164.76 462,164.23 464,163.66 466,163.05 468,162.43 470,161.8 472,161.19 474,160.57 476,159.89 478,159.02 480,157.76 482,156.53 484,155.8 486,155.51 488,155.27 490,155.09 492,154.96 494,154.9 496,154.87 498,154.84 500,154.82 502,154.81 504,154.8 506,154.8 508,154.82 510,154.87 512,154.93 514,155.01 516,155.1 518,155.2 520,155.33 522,155.53 524,155.79 526,156.11 528,156.5 530,157.12 532,158.07 534,159.21 536,160.41 538,161.61 540,162.97 542,164.44 544,165.92 546,167.27 548,168.42 550,169.42 552,170.34 554,171.19 556,172 558,172.79 560,173.54 562,174.25 564,174.9 566,175.49 568,176.09 570,176.68 572,177.25 574,177.78 576,178.28 578,178.71 580,179.07 582,179.35 584,179.55 586,179.72 588,179.88 590,180.02 592,180.14 594,180.26 596,180.36 598,180.46 600,180.55 602,180.65 604,180.74 606,180.84 608,180.95 610,181.06 612,181.19 614,181.34 616,181.49 618,181.66 620,181.83 622,182 624,182.16 626,182.32 628,182.47 630,182.6 632,182.71 634,182.8 636,182.87 638,182.9 640,182.88 642,182.77 644,182.59 646,182.35 648,182.08 650,181.8 652,181.54 654,181.3 656,181.13 658,181 660,180.88 662,180.77 664,180.65 666,180.55 668,180.44 670,180.34 672,180.24 674,180.15 676,180.06 678,179.97 680,179.88 682,179.8 684,179.72 686,179.65 688,179.57 690,179.5 692,179.43 694,179.36 696,179.29 698,179.23 700,179.16 702,179.1 704,179.04 706,178.98 708,178.93 710,178.87 712,178.81 714,178.76 716,178.7 718,178.65 720,178.6 722,178.56 724,178.51 726,178.48 728,178.44 730,178.4 732,178.37 734,178.34 736,178.31 738,178.28 740,178.25 742,178.22 744,178.19 746,178.16 748,178.12 750,178.09 752,178.05 754,178.01 756,177.97 758,177.92 760,177.87 762,177.82 764,177.76 766,177.7 768,177.63 770,177.56 772,177.45 774,177.33 776,177.18 778,177.01 780,176.83 782,176.65 784,176.45 786,176.25 788,176.03 790,175.76 792,175.45 794,175.13 796,174.81 798,174.53 800,174.29 802,174.12 804,174 806,173.9 808,173.79 810,173.7 812,173.61 814,173.54 816,173.48 818,173.44 820,173.41 822,173.4 822,173.4" fill="none" stroke="#e8555d" stroke-width="2.1" stroke-linejoin="round" stroke-linecap="round" />
<polyline points="104,342.19 106,343.45 108,344.76 110,346.11 112,347.5 114,348.93 116,350.37 118,351.85 120,353.38 122,354.97 124,356.64 126,358.4 128,360.34 130,362.38 132,364.46 134,366.5 136,368.61 138,370.8 140,372.88 142,374.63 144,376 146,377.21 148,378.29 150,379.27 152,380.19 154,381.07 156,381.92 158,382.73 160,383.5 162,384.23 164,384.93 166,385.62 168,386.31 170,387 172,387.7 174,388.39 176,389.07 178,389.74 180,390.41 182,391.06 184,391.69 186,392.31 188,392.9 190,393.47 192,394.04 194,394.6 196,395.16 198,395.72 200,396.3 202,396.89 204,397.48 206,398.09 208,398.69 210,399.3 212,399.91 214,400.52 216,401.12 218,401.73 220,402.33 222,402.92 224,403.51 226,404.09 228,404.65 230,405.2 232,405.73 234,406.26 236,406.79 238,407.32 240,407.86 242,408.41 244,408.98 246,409.56 248,410.17 250,410.8 252,411.49 254,412.24 256,413.05 258,413.88 260,414.72 262,415.55 264,416.36 266,417.13 268,417.83 270,418.44 272,419 274,419.53 276,420.03 278,420.52 280,420.98 282,421.42 284,421.83 286,422.22 288,422.58 290,422.92 292,423.23 294,423.5 296,423.74 298,423.96 300,424.17 302,424.38 304,424.6 306,424.83 308,425.09 310,425.39 312,425.73 314,426.15 316,426.64 318,427.16 320,427.72 322,428.29 324,428.86 326,429.41 328,429.92 330,430.39 332,430.8 334,431.23 336,431.67 338,432.1 340,432.52 342,432.91 344,433.26 346,433.56 348,433.8 350,433.95 352,434.02 354,434.07 356,434.12 358,434.16 360,434.2 362,434.23 364,434.25 366,434.28 368,434.29 370,434.3 372,434.3 374,434.27 376,434.2 378,434.11 380,434 382,433.85 384,433.63 386,433.32 388,432.95 390,432.49 392,431.86 394,430.64 396,429.15 398,427.87 400,426.71 402,425.62 404,424.78 406,424.26 408,423.86 410,423.52 412,423.24 414,422.97 416,422.69 418,422.45 420,422.22 422,422.01 424,421.78 426,421.53 428,421.23 430,420.89 432,420.51 434,420.1 436,419.67 438,419.23 440,418.78 442,418.29 444,417.77 446,417.24 448,416.7 450,416.1 452,415.44 454,414.85 456,414.43 458,414.19 460,414.02 462,413.88 464,413.76 466,413.65 468,413.52 470,413.35 472,413.12 474,412.76 476,412.3 478,411.83 480,411.43 482,411.13 484,410.86 486,410.6 488,410.36 490,410.15 492,409.95 494,409.79 496,409.66 498,409.56 500,409.5 502,409.48 504,409.46 506,409.45 508,409.44 510,409.43 512,409.42 514,409.41 516,409.4 518,409.4 520,409.4 522,409.4 524,409.43 526,409.46 528,409.52 530,409.59 532,409.67 534,409.76 536,409.95 538,410.46 540,411.2 542,412.06 544,412.92 546,413.66 548,414.23 550,414.8 552,415.36 554,415.88 556,416.35 558,416.74 560,417.01 562,417.17 564,417.3 566,417.42 568,417.53 570,417.63 572,417.71 574,417.78 576,417.84 578,417.88 580,417.9 582,417.9 584,417.88 586,417.84 588,417.8 590,417.74 592,417.68 594,417.62 596,417.57 598,417.53 600,417.51 602,417.5 604,417.5 606,417.52 608,417.53 610,417.55 612,417.57 614,417.6 616,417.63 618,417.66 620,417.69 622,417.72 624,417.75 626,417.78 628,417.81 630,417.83 632,417.86 634,417.87 636,417.89 638,417.9 640,417.9 642,417.88 644,417.83 646,417.75 648,417.66 650,417.55 652,417.43 654,417.31 656,417.2 658,417.1 660,417.02 662,416.95 664,416.89 666,416.83 668,416.77 670,416.71 672,416.65 674,416.6 676,416.55 678,416.5 680,416.45 682,416.4 684,416.35 686,416.31 688,416.26 690,416.22 692,416.18 694,416.14 696,416.1 698,416.06 700,416.02 702,415.98 704,415.95 706,415.91 708,415.88 710,415.86 712,415.83 714,415.8 716,415.78 718,415.75 720,415.73 722,415.7 724,415.68 726,415.65 728,415.62 730,415.6 732,415.57 734,415.54 736,415.5 738,415.47 740,415.43 742,415.39 744,415.35 746,415.3 748,415.25 750,415.2 752,415.15 754,415.09 756,415.03 758,414.96 760,414.9 762,414.83 764,414.75 766,414.68 768,414.6 770,414.52 772,414.43 774,414.33 776,414.21 778,414.09 780,413.96 782,413.82 784,413.68 786,413.54 788,413.39 790,413.24 792,413.09 794,412.95 796,412.81 798,412.67 800,412.54 802,412.42 804,412.3 806,412.18 808,412.07 810,411.95 812,411.84 814,411.73 816,411.62 818,411.51 820,411.41 822,411.3 822,411.3" fill="none" stroke="#e766e8" stroke-width="2.1" stroke-linejoin="round" stroke-linecap="round" />
<g fill-opacity="0.9">
<rect x="459.6" y="240.75" width="362.4" height="51.0" fill="rgb(95,100,112)" fill-opacity="0.235"/>
<rect x="459.6" y="240.75" width="61.4" height="5.38" fill="#ef8e35"/>
<rect x="459.6" y="245.83" width="102.9" height="5.38" fill="#f2a145"/>
<rect x="459.6" y="250.91" width="239.4" height="5.38" fill="#f5bd52"/>
<rect x="459.6" y="255.99" width="363.4" height="5.38" fill="#f8dd68"/>
<rect x="459.6" y="261.07" width="363.4" height="5.38" fill="#f9e572"/>
<rect x="459.6" y="266.15" width="337.4" height="5.38" fill="#f8de69"/>
<rect x="459.6" y="271.23" width="315.4" height="5.38" fill="#f7d460"/>
<rect x="459.6" y="276.31" width="239.4" height="5.38" fill="#f5be53"/>
<rect x="459.6" y="281.39" width="205.4" height="5.38" fill="#f3a849"/>
<rect x="459.6" y="286.47" width="143.4" height="5.38" fill="#f1983f"/>
<rect x="459.6" y="250.91" width="150" height="30.48" fill="url(#obg)"/>
<rect x="295.4" y="502" width="526.6" height="14.2" fill="rgb(95,100,112)" fill-opacity="0.235"/>
<rect x="295.4" y="501.6" width="76.10000000000002" height="7" fill="#ef8724"/>
<rect x="371" y="503.6" width="27.5" height="3" fill="#ee9340"/>
<rect x="295.4" y="508.3" width="370.6" height="5.4" fill="#f9d857"/>
<rect x="666" y="510.2" width="26.5" height="3.5" fill="#f8dc62"/>
<rect x="692.5" y="511.3" width="129.5" height="2.6" fill="#f4e585"/>
<rect x="295.4" y="513.4" width="260.6" height="2.8" fill="#f2ac45"/>
<rect x="556" y="513.4" width="266" height="2.8" fill="#f5e27a"/>
<rect x="762" y="435.4" width="40" height="3.2" fill="#e9cf98" stroke="#e6c88c" stroke-width="0.5"/>
</g>
<line x1="176" y1="395.8" x2="964.5" y2="395.8" stroke="#62c56c" stroke-width="1" stroke-dasharray="1.2 1.67"/>
<line x1="822" y1="393.3" x2="822" y2="399.7" stroke="#5aa39c" stroke-width="1.1"/>
<rect x="819.95" y="395.7" width="4.1" height="1" fill="#1fe045" stroke="#10b45c" stroke-width="0.8"/>
<line x1="815.16" y1="377.4" x2="815.16" y2="405.8" stroke="#df606c" stroke-width="1.1"/>
<rect x="813.11" y="381.1" width="4.1" height="15.8" fill="#52d62f" stroke="#d98a3c" stroke-width="0.8"/>
<line x1="808.32" y1="361.9" x2="808.32" y2="383.5" stroke="#df606c" stroke-width="1.1"/>
<rect x="806.27" y="361.9" width="4.1" height="18.8" fill="#52d62f" stroke="#d98a3c" stroke-width="0.8"/>
<line x1="801.48" y1="344.7" x2="801.48" y2="368.9" stroke="#5aa39c" stroke-width="1.1"/>
<rect x="799.43" y="361.9" width="4.1" height="5.6" fill="#1fe045" stroke="#10b45c" stroke-width="0.8"/>
<line x1="794.64" y1="363.3" x2="794.64" y2="385.5" stroke="#5aa39c" stroke-width="1.1"/>
<rect x="792.59" y="366.9" width="4.1" height="15.2" fill="#1fe045" stroke="#10b45c" stroke-width="0.8"/>
<line x1="787.8" y1="380.1" x2="787.8" y2="401.3" stroke="#5aa39c" stroke-width="1.1"/>
<rect x="785.75" y="382.1" width="4.1" height="15.2" fill="#1fe045" stroke="#10b45c" stroke-width="0.8"/>
<line x1="780.96" y1="390.8" x2="780.96" y2="405.8" stroke="#5aa39c" stroke-width="1.1"/>
<rect x="778.91" y="397.7" width="4.1" height="5.7" fill="#1fe045" stroke="#10b45c" stroke-width="0.8"/>
<line x1="774.12" y1="385.1" x2="774.12" y2="406.4" stroke="#df606c" stroke-width="1.1"/>
<rect x="772.07" y="397.3" width="4.1" height="6.1" fill="#52d62f" stroke="#d98a3c" stroke-width="0.8"/>
<line x1="767.28" y1="393.6" x2="767.28" y2="425.6" stroke="#5aa39c" stroke-width="1.1"/>
<rect x="765.23" y="395.7" width="4.1" height="28.3" fill="#1fe045" stroke="#10b45c" stroke-width="0.8"/>
<line x1="760.44" y1="420.6" x2="760.44" y2="437.8" stroke="#2f978a" stroke-width="1.1"/>
<rect x="758.39" y="424" width="4.1" height="13.4" fill="#c4141b" stroke="#356b48" stroke-width="0.8"/>
<line x1="753.6" y1="432.2" x2="753.6" y2="439.3" stroke="#ee2a36" stroke-width="1.1"/>
<rect x="751.55" y="433.8" width="4.1" height="3.5" fill="#f0121a" stroke="#f0121a" stroke-width="0.8"/>
<line x1="746.76" y1="429.6" x2="746.76" y2="445" stroke="#2f978a" stroke-width="1.1"/>
<rect x="744.71" y="434.3" width="4.1" height="10.1" fill="#c4141b" stroke="#356b48" stroke-width="0.8"/>
<line x1="739.92" y1="428.6" x2="739.92" y2="447.4" stroke="#ee2a36" stroke-width="1.1"/>
<rect x="737.87" y="429.6" width="4.1" height="15.4" fill="#f0121a" stroke="#f0121a" stroke-width="0.8"/>
<line x1="733.08" y1="427.2" x2="733.08" y2="432.2" stroke="#ee2a36" stroke-width="1.1"/>
<rect x="731.03" y="429.2" width="4.1" height="1" fill="#f0121a" stroke="#f0121a" stroke-width="0.8"/>
<line x1="726.24" y1="427.2" x2="726.24" y2="439.3" stroke="#2f978a" stroke-width="1.1"/>
<rect x="724.19" y="429.6" width="4.1" height="3.6" fill="#c4141b" stroke="#356b48" stroke-width="0.8"/>
<line x1="719.4" y1="406.9" x2="719.4" y2="437.7" stroke="#ee2a36" stroke-width="1.1"/>
<rect x="717.35" y="409.4" width="4.1" height="24.2" fill="#f0121a" stroke="#f0121a" stroke-width="0.8"/>
<line x1="712.56" y1="398.4" x2="712.56" y2="410" stroke="#df606c" stroke-width="1.1"/>
<rect x="710.51" y="406.9" width="4.1" height="2" fill="#52d62f" stroke="#d98a3c" stroke-width="0.8"/>
<line x1="705.72" y1="395.8" x2="705.72" y2="422.1" stroke="#5aa39c" stroke-width="1.1"/>
<rect x="703.67" y="406.9" width="4.1" height="7.7" fill="#1fe045" stroke="#10b45c" stroke-width="0.8"/>
<line x1="698.88" y1="401.9" x2="698.88" y2="440.3" stroke="#2f978a" stroke-width="1.1"/>
<rect x="696.83" y="415" width="4.1" height="1.6" fill="#c4141b" stroke="#356b48" stroke-width="0.8"/>
<line x1="692.04" y1="413.4" x2="692.04" y2="424.7" stroke="#2f978a" stroke-width="1.1"/>
<rect x="689.99" y="417.4" width="4.1" height="6.7" fill="#c4141b" stroke="#356b48" stroke-width="0.8"/>
<line x1="685.2" y1="414" x2="685.2" y2="424.1" stroke="#ee2a36" stroke-width="1.1"/>
<rect x="683.15" y="422.1" width="4.1" height="2" fill="#f0121a" stroke="#f0121a" stroke-width="0.8"/>
<line x1="678.36" y1="417" x2="678.36" y2="437.3" stroke="#2f978a" stroke-width="1.1"/>
<rect x="676.31" y="422.1" width="4.1" height="14.8" fill="#c4141b" stroke="#356b48" stroke-width="0.8"/>
<line x1="671.52" y1="401.9" x2="671.52" y2="441.3" stroke="#ee2a36" stroke-width="1.1"/>
<rect x="669.47" y="408.3" width="4.1" height="29" fill="#f0121a" stroke="#f0121a" stroke-width="0.8"/>
<line x1="664.68" y1="395.8" x2="664.68" y2="414" stroke="#df606c" stroke-width="1.1"/>
<rect x="662.63" y="399.4" width="4.1" height="8.5" fill="#52d62f" stroke="#d98a3c" stroke-width="0.8"/>
<line x1="657.84" y1="389.7" x2="657.84" y2="404.5" stroke="#df606c" stroke-width="1.1"/>
<rect x="655.79" y="389.7" width="4.1" height="9.7" fill="#52d62f" stroke="#d98a3c" stroke-width="0.8"/>
<line x1="651" y1="387.7" x2="651" y2="430.8" stroke="#5aa39c" stroke-width="1.1"/>
<rect x="648.95" y="389.1" width="4.1" height="30" fill="#1fe045" stroke="#10b45c" stroke-width="0.8"/>
<line x1="644.16" y1="405.9" x2="644.16" y2="423.1" stroke="#ee2a36" stroke-width="1.1"/>
<rect x="642.11" y="408.9" width="4.1" height="9.8" fill="#f0121a" stroke="#f0121a" stroke-width="0.8"/>
<line x1="637.32" y1="406.9" x2="637.32" y2="425.5" stroke="#5aa39c" stroke-width="1.1"/>
<rect x="635.27" y="408.9" width="4.1" height="9.8" fill="#1fe045" stroke="#10b45c" stroke-width="0.8"/>
<line x1="630.48" y1="400.4" x2="630.48" y2="420.1" stroke="#df606c" stroke-width="1.1"/>
<rect x="628.43" y="404.9" width="4.1" height="13.8" fill="#52d62f" stroke="#d98a3c" stroke-width="0.8"/>
<line x1="623.64" y1="388.7" x2="623.64" y2="408.5" stroke="#df606c" stroke-width="1.1"/>
<rect x="621.59" y="389.7" width="4.1" height="15.2" fill="#52d62f" stroke="#d98a3c" stroke-width="0.8"/>
<line x1="616.8" y1="378.1" x2="616.8" y2="389.6" stroke="#df606c" stroke-width="1.1"/>
<rect x="614.75" y="384.7" width="4.1" height="4.9" fill="#52d62f" stroke="#d98a3c" stroke-width="0.8"/>
<line x1="609.96" y1="382.7" x2="609.96" y2="392.2" stroke="#5aa39c" stroke-width="1.1"/>
<rect x="607.91" y="384.7" width="4.1" height="7.5" fill="#1fe045" stroke="#10b45c" stroke-width="0.8"/>
<line x1="603.12" y1="376" x2="603.12" y2="402.3" stroke="#df606c" stroke-width="1.1"/>
<rect x="601.07" y="389.6" width="4.1" height="2.6" fill="#52d62f" stroke="#d98a3c" stroke-width="0.8"/>
<line x1="596.28" y1="335.5" x2="596.28" y2="396.9" stroke="#df606c" stroke-width="1.1"/>
<rect x="594.23" y="345.7" width="4.1" height="43.9" fill="#52d62f" stroke="#d98a3c" stroke-width="0.8"/>
<line x1="589.44" y1="339.2" x2="589.44" y2="367.9" stroke="#5aa39c" stroke-width="1.1"/>
<rect x="587.39" y="345.7" width="4.1" height="22.2" fill="#1fe045" stroke="#10b45c" stroke-width="0.8"/>
<line x1="582.6" y1="361.9" x2="582.6" y2="389.2" stroke="#5aa39c" stroke-width="1.1"/>
<rect x="580.55" y="367.9" width="4.1" height="8.7" fill="#1fe045" stroke="#10b45c" stroke-width="0.8"/>
<line x1="575.76" y1="331.5" x2="575.76" y2="380.1" stroke="#df606c" stroke-width="1.1"/>
<rect x="573.71" y="343" width="4.1" height="33.6" fill="#52d62f" stroke="#d98a3c" stroke-width="0.8"/>
<line x1="568.92" y1="329.5" x2="568.92" y2="359.8" stroke="#5aa39c" stroke-width="1.1"/>
<rect x="566.87" y="342.6" width="4.1" height="4.7" fill="#1fe045" stroke="#10b45c" stroke-width="0.8"/>
<line x1="562.08" y1="333.5" x2="562.08" y2="366.5" stroke="#5aa39c" stroke-width="1.1"/>
<rect x="560.03" y="347.3" width="4.1" height="14.6" fill="#1fe045" stroke="#10b45c" stroke-width="0.8"/>
<line x1="555.24" y1="351.7" x2="555.24" y2="370.6" stroke="#5aa39c" stroke-width="1.1"/>
<rect x="553.19" y="361.9" width="4.1" height="1" fill="#1fe045" stroke="#10b45c" stroke-width="0.8"/>
<line x1="548.4" y1="361.3" x2="548.4" y2="386.2" stroke="#5aa39c" stroke-width="1.1"/>
<rect x="546.35" y="362.9" width="4.1" height="18.8" fill="#1fe045" stroke="#10b45c" stroke-width="0.8"/>
<line x1="541.56" y1="376" x2="541.56" y2="393.2" stroke="#5aa39c" stroke-width="1.1"/>
<rect x="539.51" y="381.7" width="4.1" height="3" fill="#1fe045" stroke="#10b45c" stroke-width="0.8"/>
<line x1="534.72" y1="354.8" x2="534.72" y2="395.3" stroke="#df606c" stroke-width="1.1"/>
<rect x="532.67" y="355.4" width="4.1" height="29.3" fill="#52d62f" stroke="#d98a3c" stroke-width="0.8"/>
<line x1="527.88" y1="345.7" x2="527.88" y2="363.3" stroke="#5aa39c" stroke-width="1.1"/>
<rect x="525.83" y="355.4" width="4.1" height="6.5" fill="#1fe045" stroke="#10b45c" stroke-width="0.8"/>
<line x1="521.04" y1="356.8" x2="521.04" y2="382.1" stroke="#5aa39c" stroke-width="1.1"/>
<rect x="518.99" y="361.9" width="4.1" height="14.7" fill="#1fe045" stroke="#10b45c" stroke-width="0.8"/>
<line x1="514.2" y1="360.9" x2="514.2" y2="385.1" stroke="#df606c" stroke-width="1.1"/>
<rect x="512.15" y="368.5" width="4.1" height="8.1" fill="#52d62f" stroke="#d98a3c" stroke-width="0.8"/>
<line x1="507.36" y1="348.7" x2="507.36" y2="379.1" stroke="#df606c" stroke-width="1.1"/>
<rect x="505.31" y="361.9" width="4.1" height="6.6" fill="#52d62f" stroke="#d98a3c" stroke-width="0.8"/>
<line x1="500.52" y1="313.3" x2="500.52" y2="362.9" stroke="#df606c" stroke-width="1.1"/>
<rect x="498.47" y="333.1" width="4.1" height="28.8" fill="#52d62f" stroke="#d98a3c" stroke-width="0.8"/>
<line x1="493.68" y1="322.4" x2="493.68" y2="359.8" stroke="#df606c" stroke-width="1.1"/>
<rect x="491.63" y="329.5" width="4.1" height="3.6" fill="#52d62f" stroke="#d98a3c" stroke-width="0.8"/>
<line x1="486.84" y1="279.4" x2="486.84" y2="337.6" stroke="#df606c" stroke-width="1.1"/>
<rect x="484.79" y="287.5" width="4.1" height="42" fill="#52d62f" stroke="#d98a3c" stroke-width="0.8"/>
<line x1="480" y1="229.8" x2="480" y2="291.6" stroke="#df606c" stroke-width="1.1"/>
<rect x="477.95" y="268.3" width="4.1" height="19.2" fill="#52d62f" stroke="#d98a3c" stroke-width="0.8"/>
<line x1="473.16" y1="246" x2="473.16" y2="273" stroke="#df606c" stroke-width="1.1"/>
<rect x="471.11" y="257.2" width="4.1" height="10.5" fill="#52d62f" stroke="#d98a3c" stroke-width="0.8"/>
<line x1="466.32" y1="236.9" x2="466.32" y2="266.3" stroke="#df606c" stroke-width="1.1"/>
<rect x="464.27" y="249.1" width="4.1" height="7.7" fill="#52d62f" stroke="#d98a3c" stroke-width="0.8"/>
<line x1="459.48" y1="242" x2="459.48" y2="290.6" stroke="#5aa39c" stroke-width="1.1"/>
<rect x="457.43" y="248.7" width="4.1" height="27.7" fill="#1fe045" stroke="#10b45c" stroke-width="0.8"/>
<line x1="452.64" y1="218.7" x2="452.64" y2="296.6" stroke="#df606c" stroke-width="1.1"/>
<rect x="450.59" y="257.2" width="4.1" height="19.2" fill="#52d62f" stroke="#d98a3c" stroke-width="0.8"/>
<line x1="445.8" y1="216.3" x2="445.8" y2="301.7" stroke="#df606c" stroke-width="1.1"/>
<rect x="443.75" y="228.4" width="4.1" height="28.4" fill="#52d62f" stroke="#d98a3c" stroke-width="0.8"/>
<line x1="438.96" y1="226.8" x2="438.96" y2="279.4" stroke="#5aa39c" stroke-width="1.1"/>
<rect x="436.91" y="228.4" width="4.1" height="29.2" fill="#1fe045" stroke="#10b45c" stroke-width="0.8"/>
<line x1="432.12" y1="228.8" x2="432.12" y2="285.1" stroke="#5aa39c" stroke-width="1.1"/>
<rect x="430.07" y="257.6" width="4.1" height="22.2" fill="#1fe045" stroke="#10b45c" stroke-width="0.8"/>
<line x1="425.28" y1="249.1" x2="425.28" y2="285.1" stroke="#df606c" stroke-width="1.1"/>
<rect x="423.23" y="276.4" width="4.1" height="3.4" fill="#52d62f" stroke="#d98a3c" stroke-width="0.8"/>
<line x1="418.44" y1="257.2" x2="418.44" y2="292.6" stroke="#5aa39c" stroke-width="1.1"/>
<rect x="416.39" y="276.4" width="4.1" height="7.1" fill="#1fe045" stroke="#10b45c" stroke-width="0.8"/>
<line x1="411.6" y1="228.8" x2="411.6" y2="296" stroke="#df606c" stroke-width="1.1"/>
<rect x="409.55" y="251.1" width="4.1" height="32.4" fill="#52d62f" stroke="#d98a3c" stroke-width="0.8"/>
<line x1="404.76" y1="182.7" x2="404.76" y2="269.3" stroke="#df606c" stroke-width="1.1"/>
<rect x="402.71" y="208.6" width="4.1" height="42.1" fill="#52d62f" stroke="#d98a3c" stroke-width="0.8"/>
<line x1="397.92" y1="200.1" x2="397.92" y2="319.6" stroke="#5aa39c" stroke-width="1.1"/>
<rect x="395.87" y="208.6" width="4.1" height="109.7" fill="#1fe045" stroke="#10b45c" stroke-width="0.8"/>
<line x1="391.08" y1="305.6" x2="391.08" y2="353.8" stroke="#5aa39c" stroke-width="1.1"/>
<rect x="389.03" y="318.3" width="4.1" height="33.9" fill="#1fe045" stroke="#10b45c" stroke-width="0.8"/>
<line x1="384.24" y1="335.2" x2="384.24" y2="361.5" stroke="#5aa39c" stroke-width="1.1"/>
<rect x="382.19" y="352.2" width="4.1" height="6.1" fill="#1fe045" stroke="#10b45c" stroke-width="0.8"/>
<line x1="377.4" y1="340.2" x2="377.4" y2="383.4" stroke="#5aa39c" stroke-width="1.1"/>
<rect x="375.35" y="358.8" width="4.1" height="14.8" fill="#1fe045" stroke="#10b45c" stroke-width="0.8"/>
<line x1="370.56" y1="356.6" x2="370.56" y2="417.5" stroke="#5aa39c" stroke-width="1.1"/>
<rect x="368.51" y="373.6" width="4.1" height="32.8" fill="#1fe045" stroke="#10b45c" stroke-width="0.8"/>
<line x1="363.72" y1="379.6" x2="363.72" y2="411.7" stroke="#df606c" stroke-width="1.1"/>
<rect x="361.67" y="390.3" width="4.1" height="15.7" fill="#52d62f" stroke="#d98a3c" stroke-width="0.8"/>
<line x1="356.88" y1="382" x2="356.88" y2="430.6" stroke="#5aa39c" stroke-width="1.1"/>
<rect x="354.83" y="390.1" width="4.1" height="33.4" fill="#1fe045" stroke="#10b45c" stroke-width="0.8"/>
<line x1="350.04" y1="406.3" x2="350.04" y2="438.7" stroke="#df606c" stroke-width="1.1"/>
<rect x="347.99" y="411.4" width="4.1" height="12.1" fill="#52d62f" stroke="#d98a3c" stroke-width="0.8"/>
<line x1="343.2" y1="388" x2="343.2" y2="416.5" stroke="#df606c" stroke-width="1.1"/>
<rect x="341.15" y="402.7" width="4.1" height="8.9" fill="#52d62f" stroke="#d98a3c" stroke-width="0.8"/>
<line x1="336.36" y1="391.1" x2="336.36" y2="422.5" stroke="#5aa39c" stroke-width="1.1"/>
<rect x="334.31" y="402.7" width="4.1" height="8.7" fill="#1fe045" stroke="#10b45c" stroke-width="0.8"/>
<line x1="329.52" y1="397.2" x2="329.52" y2="450.9" stroke="#5aa39c" stroke-width="1.1"/>
<rect x="327.47" y="411.4" width="4.1" height="37.8" fill="#1fe045" stroke="#10b45c" stroke-width="0.8"/>
<line x1="322.68" y1="446.2" x2="322.68" y2="471.1" stroke="#2f978a" stroke-width="1.1"/>
<rect x="320.63" y="450.2" width="4.1" height="16.8" fill="#c4141b" stroke="#356b48" stroke-width="0.8"/>
<line x1="315.84" y1="464" x2="315.84" y2="483.6" stroke="#2f978a" stroke-width="1.1"/>
<rect x="313.79" y="468.1" width="4.1" height="8.7" fill="#c4141b" stroke="#356b48" stroke-width="0.8"/>
<line x1="309" y1="468.1" x2="309" y2="489.3" stroke="#2f978a" stroke-width="1.1"/>
<rect x="306.95" y="478.2" width="4.1" height="10.7" fill="#c4141b" stroke="#356b48" stroke-width="0.8"/>
<line x1="302.16" y1="485.7" x2="302.16" y2="514.6" stroke="#2f978a" stroke-width="1.1"/>
<rect x="300.11" y="489.7" width="4.1" height="24.3" fill="#c4141b" stroke="#356b48" stroke-width="0.8"/>
<line x1="295.32" y1="502.1" x2="295.32" y2="514.6" stroke="#ee2a36" stroke-width="1.1"/>
<rect x="293.27" y="503.5" width="4.1" height="10.5" fill="#f0121a" stroke="#f0121a" stroke-width="0.8"/>
<line x1="288.48" y1="496.4" x2="288.48" y2="507.9" stroke="#ee2a36" stroke-width="1.1"/>
<rect x="286.43" y="497.8" width="4.1" height="5.7" fill="#f0121a" stroke="#f0121a" stroke-width="0.8"/>
<line x1="281.64" y1="495" x2="281.64" y2="505.5" stroke="#2f978a" stroke-width="1.1"/>
<rect x="279.59" y="497" width="4.1" height="3.4" fill="#c4141b" stroke="#356b48" stroke-width="0.8"/>
<line x1="274.8" y1="500.4" x2="274.8" y2="518.3" stroke="#2f978a" stroke-width="1.1"/>
<rect x="272.75" y="501.1" width="4.1" height="16.6" fill="#c4141b" stroke="#356b48" stroke-width="0.8"/>
<line x1="267.96" y1="513.6" x2="267.96" y2="521.7" stroke="#2f978a" stroke-width="1.1"/>
<rect x="265.91" y="518.3" width="4.1" height="2.4" fill="#c4141b" stroke="#356b48" stroke-width="0.8"/>
<line x1="261.12" y1="509.6" x2="261.12" y2="522.1" stroke="#ee2a36" stroke-width="1.1"/>
<rect x="259.07" y="512.6" width="4.1" height="8.1" fill="#f0121a" stroke="#f0121a" stroke-width="0.8"/>
<line x1="254.28" y1="505.4" x2="254.28" y2="514.2" stroke="#ee2a36" stroke-width="1.1"/>
<rect x="252.23" y="507" width="4.1" height="6.1" fill="#f0121a" stroke="#f0121a" stroke-width="0.8"/>
<line x1="247.44" y1="503.5" x2="247.44" y2="510.8" stroke="#2f978a" stroke-width="1.1"/>
<rect x="245.39" y="507.4" width="4.1" height="3.4" fill="#c4141b" stroke="#356b48" stroke-width="0.8"/>
<line x1="240.6" y1="511" x2="240.6" y2="532.5" stroke="#2f978a" stroke-width="1.1"/>
<rect x="238.55" y="511" width="4.1" height="20.7" fill="#c4141b" stroke="#356b48" stroke-width="0.8"/>
<line x1="233.76" y1="522" x2="233.76" y2="541.1" stroke="#ee2a36" stroke-width="1.1"/>
<rect x="231.71" y="525.1" width="4.1" height="6.6" fill="#f0121a" stroke="#f0121a" stroke-width="0.8"/>
<line x1="226.92" y1="512.6" x2="226.92" y2="530.1" stroke="#ee2a36" stroke-width="1.1"/>
<rect x="224.87" y="515.7" width="4.1" height="9.4" fill="#f0121a" stroke="#f0121a" stroke-width="0.8"/>
<line x1="220.08" y1="502.7" x2="220.08" y2="519.2" stroke="#ee2a36" stroke-width="1.1"/>
<rect x="218.03" y="507.1" width="4.1" height="8.6" fill="#f0121a" stroke="#f0121a" stroke-width="0.8"/>
<line x1="213.24" y1="503.5" x2="213.24" y2="510.2" stroke="#ee2a36" stroke-width="1.1"/>
<rect x="211.19" y="505.1" width="4.1" height="1" fill="#f0121a" stroke="#f0121a" stroke-width="0.8"/>
<line x1="206.4" y1="506.3" x2="206.4" y2="518.1" stroke="#2f978a" stroke-width="1.1"/>
<rect x="204.35" y="506.3" width="4.1" height="2.4" fill="#c4141b" stroke="#356b48" stroke-width="0.8"/>
<line x1="199.56" y1="497.7" x2="199.56" y2="512.4" stroke="#ee2a36" stroke-width="1.1"/>
<rect x="197.51" y="501.1" width="4.1" height="7.9" fill="#f0121a" stroke="#f0121a" stroke-width="0.8"/>
<line x1="192.72" y1="486.7" x2="192.72" y2="501.1" stroke="#ee2a36" stroke-width="1.1"/>
<rect x="190.67" y="497.7" width="4.1" height="3.4" fill="#f0121a" stroke="#f0121a" stroke-width="0.8"/>
<line x1="185.88" y1="494.5" x2="185.88" y2="501.9" stroke="#2f978a" stroke-width="1.1"/>
<rect x="183.83" y="497.7" width="4.1" height="3.4" fill="#c4141b" stroke="#356b48" stroke-width="0.8"/>
<line x1="179.04" y1="496.4" x2="179.04" y2="504.6" stroke="#ee2a36" stroke-width="1.1"/>
<rect x="176.99" y="497.7" width="4.1" height="3.4" fill="#f0121a" stroke="#f0121a" stroke-width="0.8"/>
<line x1="172.2" y1="494.1" x2="172.2" y2="512.9" stroke="#ee2a36" stroke-width="1.1"/>
<rect x="170.15" y="494.1" width="4.1" height="3.6" fill="#f0121a" stroke="#f0121a" stroke-width="0.8"/>
<line x1="165.36" y1="476.4" x2="165.36" y2="493.8" stroke="#ee2a36" stroke-width="1.1"/>
<rect x="163.31" y="476.4" width="4.1" height="17.4" fill="#f0121a" stroke="#f0121a" stroke-width="0.8"/>
<line x1="158.52" y1="457.2" x2="158.52" y2="478.4" stroke="#ee2a36" stroke-width="1.1"/>
<rect x="156.47" y="461.9" width="4.1" height="14.2" fill="#f0121a" stroke="#f0121a" stroke-width="0.8"/>
<line x1="151.68" y1="461.9" x2="151.68" y2="472.9" stroke="#2f978a" stroke-width="1.1"/>
<rect x="149.63" y="461.9" width="4.1" height="6" fill="#c4141b" stroke="#356b48" stroke-width="0.8"/>
<line x1="144.84" y1="468.5" x2="144.84" y2="491.4" stroke="#2f978a" stroke-width="1.1"/>
<rect x="142.79" y="468.5" width="4.1" height="19.3" fill="#c4141b" stroke="#356b48" stroke-width="0.8"/>
<line x1="138" y1="482" x2="138" y2="496.1" stroke="#2f978a" stroke-width="1.1"/>
<rect x="135.95" y="488.3" width="4.1" height="2.6" fill="#c4141b" stroke="#356b48" stroke-width="0.8"/>
<line x1="131.16" y1="487" x2="131.16" y2="500" stroke="#2f978a" stroke-width="1.1"/>
<rect x="129.11" y="491.7" width="4.1" height="8.3" fill="#c4141b" stroke="#356b48" stroke-width="0.8"/>
<line x1="124.32" y1="488.6" x2="124.32" y2="503.5" stroke="#2f978a" stroke-width="1.1"/>
<rect x="122.27" y="500.3" width="4.1" height="3.2" fill="#c4141b" stroke="#356b48" stroke-width="0.8"/>
<line x1="117.48" y1="484.7" x2="117.48" y2="507.4" stroke="#ee2a36" stroke-width="1.1"/>
<rect x="115.43" y="488.9" width="4.1" height="14.6" fill="#f0121a" stroke="#f0121a" stroke-width="0.8"/>
<line x1="110.64" y1="472.1" x2="110.64" y2="488.9" stroke="#ee2a36" stroke-width="1.1"/>
<rect x="108.59" y="476.4" width="4.1" height="12.5" fill="#f0121a" stroke="#f0121a" stroke-width="0.8"/>
<line x1="103.8" y1="459.6" x2="103.8" y2="477.6" stroke="#ee2a36" stroke-width="1.1"/>
<rect x="101.75" y="467.4" width="4.1" height="9" fill="#f0121a" stroke="#f0121a" stroke-width="0.8"/>
<g stroke="#46a555" fill="none" stroke-linecap="round" stroke-linejoin="round">
<line x1="822" y1="399" x2="849.3" y2="252.2" stroke-width="2"/>
<polyline points="837.9,260.2 849.4,251.8 857.2,263.5" stroke-width="1.7"/>
</g>
<g><circle cx="822.1" cy="560.65" r="9.35" fill="#fff" stroke="#8f37a8" stroke-width="1.3"/>
<path d="M824.9 555.8 L818.6 561.4 L821.9 561.4 L819.1 565.6 L826.2 559.8 L822.8 559.8 Z" fill="#8f37a8"/>
<circle cx="828.6" cy="553.8" r="3.9" fill="#fff"/><circle cx="828.6" cy="553.8" r="2.6" fill="#ea2f45"/></g>
</g>
<line x1="9.5" y1="573.4" x2="1014.5" y2="573.4" stroke="#e8eaee" stroke-width="1"/>
<rect x="104.0" y="607" width="860.5" height="86.5" fill="#f1eefa"/>
<line x1="104.0" y1="629" x2="964.5" y2="629" stroke="#e9e6f5" stroke-width="1"/>
<line x1="104.0" y1="672.7" x2="964.5" y2="672.7" stroke="#e9e6f5" stroke-width="1"/>
<line x1="295.3" y1="607" x2="295.3" y2="693.5" stroke="#e6e3f2" stroke-width="1"/>
<line x1="507.4" y1="607" x2="507.4" y2="693.5" stroke="#e6e3f2" stroke-width="1"/>
<line x1="719.4" y1="607" x2="719.4" y2="693.5" stroke="#e6e3f2" stroke-width="1"/>
<line x1="924.7" y1="607" x2="924.7" y2="693.5" stroke="#e6e3f2" stroke-width="1"/>
<line x1="104.0" y1="607.1" x2="964.5" y2="607.1" stroke="#93939d" stroke-width="1.2" stroke-dasharray="5 5.593"/>
<line x1="104.0" y1="650.4" x2="964.5" y2="650.4" stroke="#b6b5c0" stroke-width="1" stroke-dasharray="5 5.593"/>
<line x1="104.0" y1="693.5" x2="964.5" y2="693.5" stroke="#93939d" stroke-width="1.2" stroke-dasharray="5 5.593"/>
<g clip-path="url(#rp)">
<path d="M370.5 605 L377.5 600.5 L384.25 598.25 L391 590 L397.75 573.75 L404.75 596.25 L411.5 607 L412 607 L368 607 Z" fill="url(#rsig)"/>
<polyline points="104.5,652.5 115,658.75 125,663 137.5,666.25 150,667 165,667.5 180,668.25 200,669.25 220,669.25 235,671.25 250,673.75 262.5,675 275,673 290,670.5 300,668.25 312.5,662.5 325,653.75 337.5,643.75 350,635.5 362.5,628 375,621.25 387.5,612.5 400,604.5 407.5,602.5 417.5,601.75 432.5,602.5 450,603.75 462.5,605 475,608.75 487.5,616.25 500,625 512.5,632.5 525,639.5 537.5,647 550,652 562.5,656.25 575,658.75 587.5,659.5 605.75,659.5 612.5,659.5 625,661.25 637.5,662 650,663.75 662.5,665.75 675,667.5 687.5,668.75 700,668.75 712.5,668 725,667.5 737.5,667.5 750,668.75 757.5,668.75 770,665.75 782.5,662.5 795,657.5 807.5,653 822,648.75" fill="none" stroke="#eede84" stroke-width="1.5" stroke-linejoin="round" stroke-linecap="round" />
<polyline points="104.5,668.25 111.25,676.25 118,682 124.25,679.25 131.25,671.75 138,668.75 145,652.5 151.75,648.25 158.75,657.5 165.5,669.25 172.5,671.25 179.25,673.25 186.25,670 193,672.5 199.75,677.5 206.75,674.5 213.5,675 220.25,680.75 227.25,686.75 234,691.75 240.75,667 247.5,663.75 254.5,668.25 261.25,673.75 268,670 275,652.5 281.75,650 288.5,656.25 295.5,665 302.25,641.75 309,633.25 316,625.75 322.75,615 329.5,600 336.25,596.25 343,605.75 349.5,616.75 356.25,603.75 363.75,616.25 370.5,605 377.5,600.5 384.25,598.25 391,590 397.75,573.75 404.75,596.25 411.5,611.75 418.25,610.5 425,612.5 432,607 438.75,601.25 445.75,615 452.5,623.75 459.25,616.75 466,620 473,625 479.75,634.5 486.5,650.5 493.25,653 500.25,662.5 507,665 514,667.5 520.75,660.5 527.5,658 534.5,668.75 541.25,667 548,658 555,657 561.75,650 568.75,648.25 575.5,663.25 582.5,659.25 589.25,648.25 596,666.25 602.5,667 610,663.25 616.75,665.75 623.75,672 630.5,677 637.5,670.75 644.25,675 651.25,658 658,662.5 664.75,666.25 671.75,678 678.5,668.75 685.5,669.5 692.25,665.5 699,663.25 706,658.75 712.75,659.5 719.5,672.5 726.5,670 733.25,670.5 740,677.5 747,669.25 753.75,671.25 760.5,660 767.25,642 774.25,646.25 781,642.5 787.75,633.75 794.75,625.5 801.5,623 808.25,637 815.25,649.5 822,648.75" fill="none" stroke="#786eb0" stroke-width="1.3" stroke-linejoin="round" stroke-linecap="round" />
</g>
<rect x="9.5" y="26.5" width="1005.0" height="706.5" fill="none" stroke="#eeeff2" stroke-width="1"/>
</svg>
<svg style="position:absolute;left:0;top:0" width="1024" height="791" viewBox="0 0 1024 791"><path d="M11.5 754.2 H23.2 V768.4 H17.1 V760 H11.5 Z" fill="#141414"/><circle cx="27.7" cy="757.1" r="2.7" fill="#141414"/><path d="M32.8 754.2 H40.1 L35.4 768.4 H28.2 Z" fill="#141414"/></svg>
<div id="tx" style="position:absolute;left:0;top:0;width:1024px;height:791px;will-change:transform;">
<div class="t" style="top:5.6px;font-size:12.18px;color:#1a1a1a;font-weight:normal;left:10px;">ol_charles created with TradingView.com, Sep 16, 2025 13:06 UTC+2</div>
<div style="position:absolute;left:14px;top:29.75px;width:85.4px;height:24.3px;border:1px solid #f3f4f6;border-radius:4px;box-sizing:border-box"></div>
<div class="t" style="top:32.2px;font-size:11.6px;color:#2a2a2a;font-weight:normal;letter-spacing:-0.15px;left:22.2px;">USDT</div>
<div class="t" style="top:58.75px;font-size:12.2px;color:#33363d;font-weight:normal;letter-spacing:0.37px;right:928.63px;">0.00005000</div>
<div class="t" style="top:120.08px;font-size:12.2px;color:#33363d;font-weight:normal;letter-spacing:0.37px;right:928.63px;">0.00004500</div>
<div class="t" style="top:181.4px;font-size:12.2px;color:#33363d;font-weight:normal;letter-spacing:0.37px;right:928.63px;">0.00004000</div>
<div class="t" style="top:242.73px;font-size:12.2px;color:#33363d;font-weight:normal;letter-spacing:0.37px;right:928.63px;">0.00003500</div>
<div class="t" style="top:304.05px;font-size:12.2px;color:#33363d;font-weight:normal;letter-spacing:0.37px;right:928.63px;">0.00003000</div>
<div class="t" style="top:365.38px;font-size:12.2px;color:#33363d;font-weight:normal;letter-spacing:0.37px;right:928.63px;">0.00002500</div>
<div class="t" style="top:426.7px;font-size:12.2px;color:#33363d;font-weight:normal;letter-spacing:0.37px;right:928.63px;">0.00002000</div>
<div class="t" style="top:488.02px;font-size:12.2px;color:#33363d;font-weight:normal;letter-spacing:0.37px;right:928.63px;">0.00001500</div>
<div class="t" style="top:549.35px;font-size:12.2px;color:#33363d;font-weight:normal;letter-spacing:0.37px;right:928.63px;">0.00001000</div>
<div style="position:absolute;left:21px;top:165.09px;width:82.2px;height:16px;background:#f50f0f;border-radius:2px"></div>
<div class="t" style="top:163.49px;font-size:12.2px;color:#fff;font-weight:normal;letter-spacing:0.37px;right:928.63px;">0.00004146</div>
<div style="position:absolute;left:21px;top:221.27px;width:82.2px;height:16px;background:#808080;border-radius:2px"></div>
<div class="t" style="top:219.67px;font-size:12.2px;color:#fff;font-weight:normal;letter-spacing:0.37px;right:928.63px;">0.00003688</div>
<div style="position:absolute;left:21px;top:256.1px;width:82.2px;height:16px;background:#f77f10;border-radius:2px"></div>
<div class="t" style="top:254.5px;font-size:12.2px;color:#fff;font-weight:normal;letter-spacing:0.37px;right:928.63px;">0.00003404</div>
<div style="position:absolute;left:21px;top:284.19px;width:82.2px;height:16px;background:#808080;border-radius:2px"></div>
<div class="t" style="top:282.59px;font-size:12.2px;color:#fff;font-weight:normal;letter-spacing:0.37px;right:928.63px;">0.00003175</div>
<div style="position:absolute;left:21px;top:312.4px;width:82.2px;height:16px;background:#808080;border-radius:2px"></div>
<div class="t" style="top:310.8px;font-size:12.2px;color:#fff;font-weight:normal;letter-spacing:0.37px;right:928.63px;">0.00002945</div>
<div style="position:absolute;left:21px;top:347.11px;width:82.2px;height:16px;background:#808080;border-radius:2px"></div>
<div class="t" style="top:345.51px;font-size:12.2px;color:#fff;font-weight:normal;letter-spacing:0.37px;right:928.63px;">0.00002662</div>
<div style="position:absolute;left:21px;top:388px;width:81.4px;height:29.7px;background:#1fe432;border-radius:2px"></div>
<div class="t" style="top:386.1px;font-size:12.2px;color:#0c4a12;font-weight:normal;letter-spacing:0.37px;right:928.63px;">0.00002329</div>
<div class="t" style="top:399.4px;font-size:12.2px;color:#0c4a12;font-weight:normal;letter-spacing:0.37px;right:928.63px;">12:53:29</div>
<div style="position:absolute;left:21px;top:418.2px;width:82.2px;height:15.2px;background:#ec18ec;border-radius:2px"></div>
<div class="t" style="top:416.2px;font-size:12.2px;color:#fff;font-weight:normal;letter-spacing:0.37px;right:928.63px;">0.00002203</div>
<div style="position:absolute;left:21px;top:459.7px;width:82.2px;height:16px;background:#808080;border-radius:2px"></div>
<div class="t" style="top:458.1px;font-size:12.2px;color:#fff;font-weight:normal;letter-spacing:0.37px;right:928.63px;">0.00001744</div>
<div style="position:absolute;left:21px;top:494.53px;width:82.2px;height:16px;background:#808080;border-radius:2px"></div>
<div class="t" style="top:492.93px;font-size:12.2px;color:#fff;font-weight:normal;letter-spacing:0.37px;right:928.63px;">0.00001460</div>
<div style="position:absolute;left:21px;top:522.62px;width:82.2px;height:16px;background:#808080;border-radius:2px"></div>
<div class="t" style="top:521.02px;font-size:12.2px;color:#fff;font-weight:normal;letter-spacing:0.37px;right:928.63px;">0.00001231</div>
<div style="position:absolute;left:21px;top:550.7px;width:82.2px;height:16px;background:#f77f10;border-radius:2px"></div>
<div class="t" style="top:549.1px;font-size:12.2px;color:#fff;font-weight:normal;letter-spacing:0.37px;right:928.63px;">0.00001002</div>
<div style="position:absolute;left:104px;top:388px;width:72.3px;height:15.8px;background:#1fe432;border-radius:0 2px 2px 0"></div>
<div class="t" style="top:386px;font-size:11.6px;color:#0c4a12;font-weight:normal;letter-spacing:-0.22px;left:108.5px;">BONKUSDT</div>
<div class="t" style="top:31.1px;font-size:12px;color:#1f1f24;font-weight:normal;left:112px;"><span style="letter-spacing:-0.16px">BONK / TetherUS · 1D · Binance</span><span style="display:inline-block;width:8.2px"></span>O<span style="display:inline-block;width:0.6px"></span><span style="color:#27a591;letter-spacing:0.26px">0.00002322</span><span style="display:inline-block;width:7.4px"></span>H<span style="display:inline-block;width:0.4px"></span><span style="color:#27a591;letter-spacing:0.26px">0.00002348</span><span style="display:inline-block;width:7.4px"></span>L<span style="display:inline-block;width:0.4px"></span><span style="color:#27a591;letter-spacing:0.26px">0.00002296</span><span style="display:inline-block;width:7.4px"></span>C<span style="display:inline-block;width:0.4px"></span><span style="color:#27a591;letter-spacing:0.26px">0.00002329</span><span style="display:inline-block;width:7.4px"></span><span style="color:#27a591;letter-spacing:0.24px">+0.00000007 (+0.30%)</span></div>
<div class="t" style="top:47.5px;font-size:12px;color:#1f1f24;font-weight:normal;letter-spacing:0.085px;left:112px;">Volume Profile Bar-Magnified Order Blocks [JacobMagleby] (7, 10, Close Engulfs 100% Of Order Block)</div>
<div class="t" style="top:63.9px;font-size:12px;color:#1f1f24;font-weight:normal;letter-spacing:0.05px;left:112px;">CM_EMA TrendBars (200)</div>
<div class="t" style="top:80.4px;font-size:12px;color:#1f1f24;font-weight:normal;left:112px;">FBB (200, hlc3, 3)<span style="display:inline-block;width:8.8px"></span><span style="color:#e040e6;letter-spacing:0.26px">0.00002203</span><span style="display:inline-block;width:7.9px"></span><span style="color:#858585;letter-spacing:0.26px">0.00002662</span><span style="display:inline-block;width:7.9px"></span><span style="color:#858585;letter-spacing:0.26px">0.00002945</span><span style="display:inline-block;width:7.9px"></span><span style="color:#858585;letter-spacing:0.26px">0.00003175</span><span style="display:inline-block;width:7.9px"></span><span style="color:#e9a23a;letter-spacing:0.26px">0.00003404</span><span style="display:inline-block;width:7.9px"></span><span style="color:#858585;letter-spacing:0.26px">0.00003688</span><span style="display:inline-block;width:7.9px"></span><span style="color:#e33b3b;letter-spacing:0.26px">0.00004146</span><span style="display:inline-block;width:7.9px"></span><span style="color:#858585;letter-spacing:0.26px">0.00001744</span><span style="color:#858585;letter-spacing:-0.3px">...</span></div>
<div class="t" style="top:578.9px;font-size:12px;color:#1f1f24;font-weight:normal;left:112px;"><span style="letter-spacing:-0.17px">RSI (14, close)</span><span style="display:inline-block;width:8.4px"></span><span style="color:#8468c4;letter-spacing:-0.1px">50.77</span><span style="display:inline-block;width:8px"></span><span style="color:#f0d560;letter-spacing:-0.1px">50.19</span></div>
<div class="t" style="top:575.6px;font-size:12.2px;color:#33363d;font-weight:normal;letter-spacing:0.18px;right:19px;">80.00</div>
<div class="t" style="top:619.3px;font-size:12.2px;color:#33363d;font-weight:normal;letter-spacing:0.18px;right:19px;">60.00</div>
<div class="t" style="top:663px;font-size:12.2px;color:#33363d;font-weight:normal;letter-spacing:0.18px;right:19px;">40.00</div>
<div style="position:absolute;left:965.3px;top:641px;width:45.2px;height:15.6px;background:#7e57c2;border-radius:2px"></div>
<div class="t" style="top:639.1px;font-size:12.2px;color:#fff;font-weight:normal;letter-spacing:0.18px;right:19px;">50.77</div>
<div style="position:absolute;left:965.3px;top:656.6px;width:45.2px;height:16.5px;background:#fdd835;border-radius:2px"></div>
<div class="t" style="top:655.2px;font-size:12.2px;color:#3a3208;font-weight:normal;letter-spacing:0.18px;right:19px;">50.19</div>
<div class="t" style="top:710.3px;font-size:11.8px;color:#1c1c1c;font-weight:bold;left:295.3px;width:200px;margin-left:-100px;text-align:center;">Jul</div>
<div class="t" style="top:710.3px;font-size:11.8px;color:#1c1c1c;font-weight:bold;left:507.4px;width:200px;margin-left:-100px;text-align:center;">Aug</div>
<div class="t" style="top:710.3px;font-size:11.8px;color:#1c1c1c;font-weight:bold;left:719.4px;width:200px;margin-left:-100px;text-align:center;">Sep</div>
<div class="t" style="top:710.3px;font-size:11.8px;color:#1c1c1c;font-weight:bold;left:924.7px;width:200px;margin-left:-100px;text-align:center;">Oct</div>
<div style="position:absolute;left:48.2px;top:711px;width:18px;height:18px;border-radius:9px;background:#f3f3f5"></div>
<div class="t" style="top:710.3px;font-size:10px;color:#5e5e62;font-weight:normal;left:57.2px;width:200px;margin-left:-100px;text-align:center;">Z</div>
<div style="position:absolute;left:980.6px;top:711.3px;width:18px;height:18px;border-radius:9px;background:#f3f3f5"></div>
<div class="t" style="top:710.5px;font-size:10.5px;color:#5e5e62;font-weight:normal;left:989.6px;width:200px;margin-left:-100px;text-align:center;">A</div>
<div class="t" style="top:751.6px;font-size:19.7px;color:#141414;font-weight:bold;left:47.6px;">TradingView</div>
</div>
</body></html>
